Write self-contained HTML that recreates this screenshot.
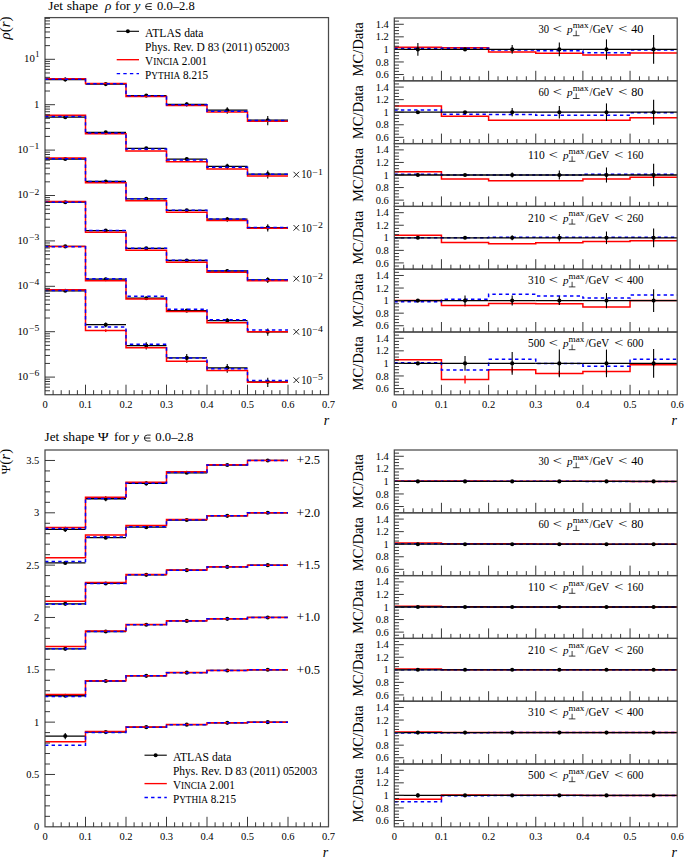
<!DOCTYPE html>
<html><head><meta charset="utf-8"><title>Jet shapes</title>
<style>html,body{margin:0;padding:0;background:#fff;overflow:hidden;}svg{display:block;}text{font-family:"Liberation Serif", serif;}</style>
</head><body>
<svg width="685" height="858" viewBox="0 0 685 858" font-family='"Liberation Serif", serif' fill="#000">
<rect width="685" height="858" fill="#fff"/>
<line x1="45.00" y1="79.50" x2="85.50" y2="79.50" stroke="#000" stroke-width="1.3" />
<line x1="85.50" y1="84.10" x2="126.00" y2="84.10" stroke="#000" stroke-width="1.3" />
<line x1="126.00" y1="95.60" x2="166.50" y2="95.60" stroke="#000" stroke-width="1.3" />
<line x1="166.50" y1="104.30" x2="207.00" y2="104.30" stroke="#000" stroke-width="1.3" />
<line x1="207.00" y1="110.20" x2="247.50" y2="110.20" stroke="#000" stroke-width="1.3" />
<line x1="247.50" y1="120.20" x2="288.00" y2="120.20" stroke="#000" stroke-width="1.3" />
<line x1="65.25" y1="77.62" x2="65.25" y2="81.58" stroke="#000" stroke-width="1.1" />
<circle cx="65.25" cy="79.50" r="2.05" fill="#000"/>
<circle cx="105.75" cy="84.10" r="2.05" fill="#000"/>
<line x1="146.25" y1="94.27" x2="146.25" y2="97.03" stroke="#000" stroke-width="1.1" />
<circle cx="146.25" cy="95.60" r="2.05" fill="#000"/>
<line x1="186.75" y1="102.24" x2="186.75" y2="106.60" stroke="#000" stroke-width="1.1" />
<circle cx="186.75" cy="104.30" r="2.05" fill="#000"/>
<line x1="227.25" y1="107.27" x2="227.25" y2="113.64" stroke="#000" stroke-width="1.1" />
<circle cx="227.25" cy="110.20" r="2.05" fill="#000"/>
<line x1="267.75" y1="116.12" x2="267.75" y2="125.35" stroke="#000" stroke-width="1.1" />
<circle cx="267.75" cy="120.20" r="2.05" fill="#000"/>
<path d="M45.00,78.82 L85.50,78.82 L85.50,83.61 L126.00,83.61 L126.00,96.40 L166.50,96.40 L166.50,105.56 L207.00,105.56 L207.00,112.06 L247.50,112.06 L247.50,121.34 L288.00,121.34" fill="none" stroke="#ff0000" stroke-width="1.5" />
<path d="M45.00,79.21 L85.50,79.21 L85.50,83.71 L126.00,83.71 L126.00,95.80 L166.50,95.80 L166.50,104.70 L207.00,104.70 L207.00,111.27 L247.50,111.27 L247.50,120.40 L288.00,120.40" fill="none" stroke="#0000ff" stroke-width="1.5" stroke-dasharray="3.4 3.2"/>
<line x1="45.00" y1="117.20" x2="85.50" y2="117.20" stroke="#000" stroke-width="1.3" />
<line x1="85.50" y1="132.40" x2="126.00" y2="132.40" stroke="#000" stroke-width="1.3" />
<line x1="126.00" y1="148.30" x2="166.50" y2="148.30" stroke="#000" stroke-width="1.3" />
<line x1="166.50" y1="159.10" x2="207.00" y2="159.10" stroke="#000" stroke-width="1.3" />
<line x1="207.00" y1="166.30" x2="247.50" y2="166.30" stroke="#000" stroke-width="1.3" />
<line x1="247.50" y1="174.10" x2="288.00" y2="174.10" stroke="#000" stroke-width="1.3" />
<circle cx="65.25" cy="117.20" r="2.05" fill="#000"/>
<circle cx="105.75" cy="132.40" r="2.05" fill="#000"/>
<line x1="146.25" y1="147.06" x2="146.25" y2="149.63" stroke="#000" stroke-width="1.1" />
<circle cx="146.25" cy="148.30" r="2.05" fill="#000"/>
<line x1="186.75" y1="157.22" x2="186.75" y2="161.18" stroke="#000" stroke-width="1.1" />
<circle cx="186.75" cy="159.10" r="2.05" fill="#000"/>
<line x1="227.25" y1="163.72" x2="227.25" y2="169.27" stroke="#000" stroke-width="1.1" />
<circle cx="227.25" cy="166.30" r="2.05" fill="#000"/>
<line x1="267.75" y1="170.51" x2="267.75" y2="178.50" stroke="#000" stroke-width="1.1" />
<circle cx="267.75" cy="174.10" r="2.05" fill="#000"/>
<path d="M45.00,115.32 L85.50,115.32 L85.50,133.73 L126.00,133.73 L126.00,151.05 L166.50,151.05 L166.50,161.85 L207.00,161.85 L207.00,169.05 L247.50,169.05 L247.50,175.96 L288.00,175.96" fill="none" stroke="#ff0000" stroke-width="1.5" />
<path d="M45.00,116.52 L85.50,116.52 L85.50,133.04 L126.00,133.04 L126.00,149.00 L166.50,149.00 L166.50,160.11 L207.00,160.11 L207.00,167.31 L247.50,167.31 L247.50,174.30 L288.00,174.30" fill="none" stroke="#0000ff" stroke-width="1.5" stroke-dasharray="3.4 3.2"/>
<line x1="45.00" y1="159.00" x2="85.50" y2="159.00" stroke="#000" stroke-width="1.3" />
<line x1="85.50" y1="181.50" x2="126.00" y2="181.50" stroke="#000" stroke-width="1.3" />
<line x1="126.00" y1="198.80" x2="166.50" y2="198.80" stroke="#000" stroke-width="1.3" />
<line x1="166.50" y1="210.30" x2="207.00" y2="210.30" stroke="#000" stroke-width="1.3" />
<line x1="207.00" y1="219.20" x2="247.50" y2="219.20" stroke="#000" stroke-width="1.3" />
<line x1="247.50" y1="227.60" x2="288.00" y2="227.60" stroke="#000" stroke-width="1.3" />
<circle cx="65.25" cy="159.00" r="2.05" fill="#000"/>
<circle cx="105.75" cy="181.50" r="2.05" fill="#000"/>
<line x1="146.25" y1="198.03" x2="146.25" y2="199.60" stroke="#000" stroke-width="1.1" />
<circle cx="146.25" cy="198.80" r="2.05" fill="#000"/>
<line x1="186.75" y1="208.97" x2="186.75" y2="211.73" stroke="#000" stroke-width="1.1" />
<circle cx="186.75" cy="210.30" r="2.05" fill="#000"/>
<line x1="227.25" y1="216.97" x2="227.25" y2="221.72" stroke="#000" stroke-width="1.1" />
<circle cx="227.25" cy="219.20" r="2.05" fill="#000"/>
<line x1="267.75" y1="224.34" x2="267.75" y2="231.51" stroke="#000" stroke-width="1.1" />
<circle cx="267.75" cy="227.60" r="2.05" fill="#000"/>
<path d="M45.00,158.04 L85.50,158.04 L85.50,182.80 L126.00,182.80 L126.00,200.66 L166.50,200.66 L166.50,212.16 L207.00,212.16 L207.00,220.50 L247.50,220.50 L247.50,228.34 L288.00,228.34" fill="none" stroke="#ff0000" stroke-width="1.5" />
<path d="M45.00,158.80 L85.50,158.80 L85.50,181.50 L126.00,181.50 L126.00,198.80 L166.50,198.80 L166.50,210.30 L207.00,210.30 L207.00,219.00 L247.50,219.00 L247.50,227.40 L288.00,227.40" fill="none" stroke="#0000ff" stroke-width="1.5" stroke-dasharray="3.4 3.2"/>
<line x1="45.00" y1="202.20" x2="85.50" y2="202.20" stroke="#000" stroke-width="1.3" />
<line x1="85.50" y1="230.60" x2="126.00" y2="230.60" stroke="#000" stroke-width="1.3" />
<line x1="126.00" y1="248.40" x2="166.50" y2="248.40" stroke="#000" stroke-width="1.3" />
<line x1="166.50" y1="260.50" x2="207.00" y2="260.50" stroke="#000" stroke-width="1.3" />
<line x1="207.00" y1="271.00" x2="247.50" y2="271.00" stroke="#000" stroke-width="1.3" />
<line x1="247.50" y1="279.90" x2="288.00" y2="279.90" stroke="#000" stroke-width="1.3" />
<circle cx="65.25" cy="202.20" r="2.05" fill="#000"/>
<circle cx="105.75" cy="230.60" r="2.05" fill="#000"/>
<line x1="146.25" y1="247.63" x2="146.25" y2="249.20" stroke="#000" stroke-width="1.1" />
<circle cx="146.25" cy="248.40" r="2.05" fill="#000"/>
<line x1="186.75" y1="259.35" x2="186.75" y2="261.72" stroke="#000" stroke-width="1.1" />
<circle cx="186.75" cy="260.50" r="2.05" fill="#000"/>
<line x1="227.25" y1="269.12" x2="227.25" y2="273.08" stroke="#000" stroke-width="1.1" />
<circle cx="227.25" cy="271.00" r="2.05" fill="#000"/>
<line x1="267.75" y1="277.14" x2="267.75" y2="283.10" stroke="#000" stroke-width="1.1" />
<circle cx="267.75" cy="279.90" r="2.05" fill="#000"/>
<path d="M45.00,201.43 L85.50,201.43 L85.50,232.14 L126.00,232.14 L126.00,250.35 L166.50,250.35 L166.50,262.14 L207.00,262.14 L207.00,272.22 L247.50,272.22 L247.50,280.87 L288.00,280.87" fill="none" stroke="#ff0000" stroke-width="1.5" />
<path d="M45.00,202.20 L85.50,202.20 L85.50,230.60 L126.00,230.60 L126.00,248.20 L166.50,248.20 L166.50,260.30 L207.00,260.30 L207.00,270.80 L247.50,270.80 L247.50,279.70 L288.00,279.70" fill="none" stroke="#0000ff" stroke-width="1.5" stroke-dasharray="3.4 3.2"/>
<line x1="45.00" y1="246.40" x2="85.50" y2="246.40" stroke="#000" stroke-width="1.3" />
<line x1="85.50" y1="279.20" x2="126.00" y2="279.20" stroke="#000" stroke-width="1.3" />
<line x1="126.00" y1="298.20" x2="166.50" y2="298.20" stroke="#000" stroke-width="1.3" />
<line x1="166.50" y1="310.60" x2="207.00" y2="310.60" stroke="#000" stroke-width="1.3" />
<line x1="207.00" y1="320.60" x2="247.50" y2="320.60" stroke="#000" stroke-width="1.3" />
<line x1="247.50" y1="331.80" x2="288.00" y2="331.80" stroke="#000" stroke-width="1.3" />
<circle cx="65.25" cy="246.40" r="2.05" fill="#000"/>
<line x1="105.75" y1="277.68" x2="105.75" y2="280.84" stroke="#000" stroke-width="1.1" />
<circle cx="105.75" cy="279.20" r="2.05" fill="#000"/>
<line x1="146.25" y1="296.68" x2="146.25" y2="299.84" stroke="#000" stroke-width="1.1" />
<circle cx="146.25" cy="298.20" r="2.05" fill="#000"/>
<line x1="186.75" y1="309.27" x2="186.75" y2="312.03" stroke="#000" stroke-width="1.1" />
<circle cx="186.75" cy="310.60" r="2.05" fill="#000"/>
<line x1="227.25" y1="318.37" x2="227.25" y2="323.12" stroke="#000" stroke-width="1.1" />
<circle cx="227.25" cy="320.60" r="2.05" fill="#000"/>
<line x1="267.75" y1="328.54" x2="267.75" y2="335.71" stroke="#000" stroke-width="1.1" />
<circle cx="267.75" cy="331.80" r="2.05" fill="#000"/>
<path d="M45.00,246.40 L85.50,246.40 L85.50,280.84 L126.00,280.84 L126.00,299.11 L166.50,299.11 L166.50,311.61 L207.00,311.61 L207.00,322.68 L247.50,322.68 L247.50,331.80 L288.00,331.80" fill="none" stroke="#ff0000" stroke-width="1.5" />
<path d="M45.00,246.80 L85.50,246.80 L85.50,278.81 L126.00,278.81 L126.00,296.32 L166.50,296.32 L166.50,309.17 L207.00,309.17 L207.00,319.83 L247.50,319.83 L247.50,330.10 L288.00,330.10" fill="none" stroke="#0000ff" stroke-width="1.5" stroke-dasharray="3.4 3.2"/>
<line x1="45.00" y1="290.80" x2="85.50" y2="290.80" stroke="#000" stroke-width="1.3" />
<line x1="85.50" y1="324.70" x2="126.00" y2="324.70" stroke="#000" stroke-width="1.3" />
<line x1="126.00" y1="345.60" x2="166.50" y2="345.60" stroke="#000" stroke-width="1.3" />
<line x1="166.50" y1="357.90" x2="207.00" y2="357.90" stroke="#000" stroke-width="1.3" />
<line x1="207.00" y1="367.80" x2="247.50" y2="367.80" stroke="#000" stroke-width="1.3" />
<line x1="247.50" y1="381.80" x2="288.00" y2="381.80" stroke="#000" stroke-width="1.3" />
<circle cx="65.25" cy="290.80" r="2.05" fill="#000"/>
<line x1="105.75" y1="322.50" x2="105.75" y2="327.18" stroke="#000" stroke-width="1.1" />
<circle cx="105.75" cy="324.70" r="2.05" fill="#000"/>
<line x1="146.25" y1="342.34" x2="146.25" y2="349.51" stroke="#000" stroke-width="1.1" />
<circle cx="146.25" cy="345.60" r="2.05" fill="#000"/>
<line x1="186.75" y1="353.98" x2="186.75" y2="362.80" stroke="#000" stroke-width="1.1" />
<circle cx="186.75" cy="357.90" r="2.05" fill="#000"/>
<line x1="227.25" y1="363.88" x2="227.25" y2="372.70" stroke="#000" stroke-width="1.1" />
<circle cx="227.25" cy="367.80" r="2.05" fill="#000"/>
<line x1="267.75" y1="377.72" x2="267.75" y2="386.95" stroke="#000" stroke-width="1.1" />
<circle cx="267.75" cy="381.80" r="2.05" fill="#000"/>
<path d="M45.00,289.65 L85.50,289.65 L85.50,330.58 L126.00,330.58 L126.00,347.68 L166.50,347.68 L166.50,361.34 L207.00,361.34 L207.00,370.55 L247.50,370.55 L247.50,382.24 L288.00,382.24" fill="none" stroke="#ff0000" stroke-width="1.5" />
<line x1="105.75" y1="329.36" x2="105.75" y2="331.89" stroke="#ff0000" stroke-width="1.3" />
<line x1="146.25" y1="346.81" x2="146.25" y2="348.59" stroke="#ff0000" stroke-width="1.3" />
<line x1="186.75" y1="360.56" x2="186.75" y2="362.14" stroke="#ff0000" stroke-width="1.3" />
<line x1="227.25" y1="369.77" x2="227.25" y2="371.35" stroke="#ff0000" stroke-width="1.3" />
<line x1="267.75" y1="381.66" x2="267.75" y2="382.84" stroke="#ff0000" stroke-width="1.3" />
<path d="M45.00,290.60 L85.50,290.60 L85.50,326.89 L126.00,326.89 L126.00,344.36 L166.50,344.36 L166.50,357.90 L207.00,357.90 L207.00,368.71 L247.50,368.71 L247.50,380.56 L288.00,380.56" fill="none" stroke="#0000ff" stroke-width="1.5" stroke-dasharray="3.4 3.2"/>
<rect x="45.00" y="17.60" width="283.50" height="377.10" fill="none" stroke="#4a4a4a" stroke-width="1.25"/>
<line x1="45.00" y1="390.77" x2="50.00" y2="390.77" stroke="#222" stroke-width="0.9" />
<line x1="45.00" y1="387.17" x2="50.00" y2="387.17" stroke="#222" stroke-width="0.9" />
<line x1="45.00" y1="384.13" x2="50.00" y2="384.13" stroke="#222" stroke-width="0.9" />
<line x1="45.00" y1="381.50" x2="50.00" y2="381.50" stroke="#222" stroke-width="0.9" />
<line x1="45.00" y1="379.18" x2="50.00" y2="379.18" stroke="#222" stroke-width="0.9" />
<line x1="45.00" y1="377.10" x2="55.00" y2="377.10" stroke="#222" stroke-width="0.9" />
<line x1="45.00" y1="363.43" x2="50.00" y2="363.43" stroke="#222" stroke-width="0.9" />
<line x1="45.00" y1="355.44" x2="50.00" y2="355.44" stroke="#222" stroke-width="0.9" />
<line x1="45.00" y1="349.77" x2="50.00" y2="349.77" stroke="#222" stroke-width="0.9" />
<line x1="45.00" y1="345.37" x2="50.00" y2="345.37" stroke="#222" stroke-width="0.9" />
<line x1="45.00" y1="341.77" x2="50.00" y2="341.77" stroke="#222" stroke-width="0.9" />
<line x1="45.00" y1="338.73" x2="50.00" y2="338.73" stroke="#222" stroke-width="0.9" />
<line x1="45.00" y1="336.10" x2="50.00" y2="336.10" stroke="#222" stroke-width="0.9" />
<line x1="45.00" y1="333.78" x2="50.00" y2="333.78" stroke="#222" stroke-width="0.9" />
<line x1="45.00" y1="331.70" x2="55.00" y2="331.70" stroke="#222" stroke-width="0.9" />
<line x1="45.00" y1="318.03" x2="50.00" y2="318.03" stroke="#222" stroke-width="0.9" />
<line x1="45.00" y1="310.04" x2="50.00" y2="310.04" stroke="#222" stroke-width="0.9" />
<line x1="45.00" y1="304.37" x2="50.00" y2="304.37" stroke="#222" stroke-width="0.9" />
<line x1="45.00" y1="299.97" x2="50.00" y2="299.97" stroke="#222" stroke-width="0.9" />
<line x1="45.00" y1="296.37" x2="50.00" y2="296.37" stroke="#222" stroke-width="0.9" />
<line x1="45.00" y1="293.33" x2="50.00" y2="293.33" stroke="#222" stroke-width="0.9" />
<line x1="45.00" y1="290.70" x2="50.00" y2="290.70" stroke="#222" stroke-width="0.9" />
<line x1="45.00" y1="288.38" x2="50.00" y2="288.38" stroke="#222" stroke-width="0.9" />
<line x1="45.00" y1="286.30" x2="55.00" y2="286.30" stroke="#222" stroke-width="0.9" />
<line x1="45.00" y1="272.63" x2="50.00" y2="272.63" stroke="#222" stroke-width="0.9" />
<line x1="45.00" y1="264.64" x2="50.00" y2="264.64" stroke="#222" stroke-width="0.9" />
<line x1="45.00" y1="258.97" x2="50.00" y2="258.97" stroke="#222" stroke-width="0.9" />
<line x1="45.00" y1="254.57" x2="50.00" y2="254.57" stroke="#222" stroke-width="0.9" />
<line x1="45.00" y1="250.97" x2="50.00" y2="250.97" stroke="#222" stroke-width="0.9" />
<line x1="45.00" y1="247.93" x2="50.00" y2="247.93" stroke="#222" stroke-width="0.9" />
<line x1="45.00" y1="245.30" x2="50.00" y2="245.30" stroke="#222" stroke-width="0.9" />
<line x1="45.00" y1="242.98" x2="50.00" y2="242.98" stroke="#222" stroke-width="0.9" />
<line x1="45.00" y1="240.90" x2="55.00" y2="240.90" stroke="#222" stroke-width="0.9" />
<line x1="45.00" y1="227.23" x2="50.00" y2="227.23" stroke="#222" stroke-width="0.9" />
<line x1="45.00" y1="219.24" x2="50.00" y2="219.24" stroke="#222" stroke-width="0.9" />
<line x1="45.00" y1="213.57" x2="50.00" y2="213.57" stroke="#222" stroke-width="0.9" />
<line x1="45.00" y1="209.17" x2="50.00" y2="209.17" stroke="#222" stroke-width="0.9" />
<line x1="45.00" y1="205.57" x2="50.00" y2="205.57" stroke="#222" stroke-width="0.9" />
<line x1="45.00" y1="202.53" x2="50.00" y2="202.53" stroke="#222" stroke-width="0.9" />
<line x1="45.00" y1="199.90" x2="50.00" y2="199.90" stroke="#222" stroke-width="0.9" />
<line x1="45.00" y1="197.58" x2="50.00" y2="197.58" stroke="#222" stroke-width="0.9" />
<line x1="45.00" y1="195.50" x2="55.00" y2="195.50" stroke="#222" stroke-width="0.9" />
<line x1="45.00" y1="181.83" x2="50.00" y2="181.83" stroke="#222" stroke-width="0.9" />
<line x1="45.00" y1="173.84" x2="50.00" y2="173.84" stroke="#222" stroke-width="0.9" />
<line x1="45.00" y1="168.17" x2="50.00" y2="168.17" stroke="#222" stroke-width="0.9" />
<line x1="45.00" y1="163.77" x2="50.00" y2="163.77" stroke="#222" stroke-width="0.9" />
<line x1="45.00" y1="160.17" x2="50.00" y2="160.17" stroke="#222" stroke-width="0.9" />
<line x1="45.00" y1="157.13" x2="50.00" y2="157.13" stroke="#222" stroke-width="0.9" />
<line x1="45.00" y1="154.50" x2="50.00" y2="154.50" stroke="#222" stroke-width="0.9" />
<line x1="45.00" y1="152.18" x2="50.00" y2="152.18" stroke="#222" stroke-width="0.9" />
<line x1="45.00" y1="150.10" x2="55.00" y2="150.10" stroke="#222" stroke-width="0.9" />
<line x1="45.00" y1="136.43" x2="50.00" y2="136.43" stroke="#222" stroke-width="0.9" />
<line x1="45.00" y1="128.44" x2="50.00" y2="128.44" stroke="#222" stroke-width="0.9" />
<line x1="45.00" y1="122.77" x2="50.00" y2="122.77" stroke="#222" stroke-width="0.9" />
<line x1="45.00" y1="118.37" x2="50.00" y2="118.37" stroke="#222" stroke-width="0.9" />
<line x1="45.00" y1="114.77" x2="50.00" y2="114.77" stroke="#222" stroke-width="0.9" />
<line x1="45.00" y1="111.73" x2="50.00" y2="111.73" stroke="#222" stroke-width="0.9" />
<line x1="45.00" y1="109.10" x2="50.00" y2="109.10" stroke="#222" stroke-width="0.9" />
<line x1="45.00" y1="106.78" x2="50.00" y2="106.78" stroke="#222" stroke-width="0.9" />
<line x1="45.00" y1="104.70" x2="55.00" y2="104.70" stroke="#222" stroke-width="0.9" />
<line x1="45.00" y1="91.03" x2="50.00" y2="91.03" stroke="#222" stroke-width="0.9" />
<line x1="45.00" y1="83.04" x2="50.00" y2="83.04" stroke="#222" stroke-width="0.9" />
<line x1="45.00" y1="77.37" x2="50.00" y2="77.37" stroke="#222" stroke-width="0.9" />
<line x1="45.00" y1="72.97" x2="50.00" y2="72.97" stroke="#222" stroke-width="0.9" />
<line x1="45.00" y1="69.37" x2="50.00" y2="69.37" stroke="#222" stroke-width="0.9" />
<line x1="45.00" y1="66.33" x2="50.00" y2="66.33" stroke="#222" stroke-width="0.9" />
<line x1="45.00" y1="63.70" x2="50.00" y2="63.70" stroke="#222" stroke-width="0.9" />
<line x1="45.00" y1="61.38" x2="50.00" y2="61.38" stroke="#222" stroke-width="0.9" />
<line x1="45.00" y1="59.30" x2="55.00" y2="59.30" stroke="#222" stroke-width="0.9" />
<line x1="45.00" y1="45.63" x2="50.00" y2="45.63" stroke="#222" stroke-width="0.9" />
<line x1="45.00" y1="37.64" x2="50.00" y2="37.64" stroke="#222" stroke-width="0.9" />
<line x1="45.00" y1="31.97" x2="50.00" y2="31.97" stroke="#222" stroke-width="0.9" />
<line x1="45.00" y1="27.57" x2="50.00" y2="27.57" stroke="#222" stroke-width="0.9" />
<line x1="45.00" y1="23.97" x2="50.00" y2="23.97" stroke="#222" stroke-width="0.9" />
<line x1="45.00" y1="20.93" x2="50.00" y2="20.93" stroke="#222" stroke-width="0.9" />
<line x1="45.00" y1="18.30" x2="50.00" y2="18.30" stroke="#222" stroke-width="0.9" />
<line x1="53.10" y1="394.70" x2="53.10" y2="390.20" stroke="#222" stroke-width="0.9" />
<line x1="61.20" y1="394.70" x2="61.20" y2="390.20" stroke="#222" stroke-width="0.9" />
<line x1="69.30" y1="394.70" x2="69.30" y2="390.20" stroke="#222" stroke-width="0.9" />
<line x1="77.40" y1="394.70" x2="77.40" y2="390.20" stroke="#222" stroke-width="0.9" />
<line x1="85.50" y1="394.70" x2="85.50" y2="384.70" stroke="#222" stroke-width="0.9" />
<line x1="93.60" y1="394.70" x2="93.60" y2="390.20" stroke="#222" stroke-width="0.9" />
<line x1="101.70" y1="394.70" x2="101.70" y2="390.20" stroke="#222" stroke-width="0.9" />
<line x1="109.80" y1="394.70" x2="109.80" y2="390.20" stroke="#222" stroke-width="0.9" />
<line x1="117.90" y1="394.70" x2="117.90" y2="390.20" stroke="#222" stroke-width="0.9" />
<line x1="126.00" y1="394.70" x2="126.00" y2="384.70" stroke="#222" stroke-width="0.9" />
<line x1="134.10" y1="394.70" x2="134.10" y2="390.20" stroke="#222" stroke-width="0.9" />
<line x1="142.20" y1="394.70" x2="142.20" y2="390.20" stroke="#222" stroke-width="0.9" />
<line x1="150.30" y1="394.70" x2="150.30" y2="390.20" stroke="#222" stroke-width="0.9" />
<line x1="158.40" y1="394.70" x2="158.40" y2="390.20" stroke="#222" stroke-width="0.9" />
<line x1="166.50" y1="394.70" x2="166.50" y2="384.70" stroke="#222" stroke-width="0.9" />
<line x1="174.60" y1="394.70" x2="174.60" y2="390.20" stroke="#222" stroke-width="0.9" />
<line x1="182.70" y1="394.70" x2="182.70" y2="390.20" stroke="#222" stroke-width="0.9" />
<line x1="190.80" y1="394.70" x2="190.80" y2="390.20" stroke="#222" stroke-width="0.9" />
<line x1="198.90" y1="394.70" x2="198.90" y2="390.20" stroke="#222" stroke-width="0.9" />
<line x1="207.00" y1="394.70" x2="207.00" y2="384.70" stroke="#222" stroke-width="0.9" />
<line x1="215.10" y1="394.70" x2="215.10" y2="390.20" stroke="#222" stroke-width="0.9" />
<line x1="223.20" y1="394.70" x2="223.20" y2="390.20" stroke="#222" stroke-width="0.9" />
<line x1="231.30" y1="394.70" x2="231.30" y2="390.20" stroke="#222" stroke-width="0.9" />
<line x1="239.40" y1="394.70" x2="239.40" y2="390.20" stroke="#222" stroke-width="0.9" />
<line x1="247.50" y1="394.70" x2="247.50" y2="384.70" stroke="#222" stroke-width="0.9" />
<line x1="255.60" y1="394.70" x2="255.60" y2="390.20" stroke="#222" stroke-width="0.9" />
<line x1="263.70" y1="394.70" x2="263.70" y2="390.20" stroke="#222" stroke-width="0.9" />
<line x1="271.80" y1="394.70" x2="271.80" y2="390.20" stroke="#222" stroke-width="0.9" />
<line x1="279.90" y1="394.70" x2="279.90" y2="390.20" stroke="#222" stroke-width="0.9" />
<line x1="288.00" y1="394.70" x2="288.00" y2="384.70" stroke="#222" stroke-width="0.9" />
<line x1="296.10" y1="394.70" x2="296.10" y2="390.20" stroke="#222" stroke-width="0.9" />
<line x1="304.20" y1="394.70" x2="304.20" y2="390.20" stroke="#222" stroke-width="0.9" />
<line x1="312.30" y1="394.70" x2="312.30" y2="390.20" stroke="#222" stroke-width="0.9" />
<line x1="320.40" y1="394.70" x2="320.40" y2="390.20" stroke="#222" stroke-width="0.9" />
<text x="45.00" y="408.00" font-size="10.5" text-anchor="middle" >0</text>
<text x="85.50" y="408.00" font-size="10.5" text-anchor="middle" >0.1</text>
<text x="126.00" y="408.00" font-size="10.5" text-anchor="middle" >0.2</text>
<text x="166.50" y="408.00" font-size="10.5" text-anchor="middle" >0.3</text>
<text x="207.00" y="408.00" font-size="10.5" text-anchor="middle" >0.4</text>
<text x="247.50" y="408.00" font-size="10.5" text-anchor="middle" >0.5</text>
<text x="288.00" y="408.00" font-size="10.5" text-anchor="middle" >0.6</text>
<text x="328.50" y="408.00" font-size="10.5" text-anchor="middle" >0.7</text>
<text x="39.40" y="376.10" font-size="8.3" text-anchor="end" textLength="10.2" lengthAdjust="spacingAndGlyphs">−6</text>
<text x="28.20" y="379.90" font-size="10.8" text-anchor="end" >10</text>
<text x="39.40" y="330.70" font-size="8.3" text-anchor="end" textLength="10.2" lengthAdjust="spacingAndGlyphs">−5</text>
<text x="28.20" y="334.50" font-size="10.8" text-anchor="end" >10</text>
<text x="39.40" y="285.30" font-size="8.3" text-anchor="end" textLength="10.2" lengthAdjust="spacingAndGlyphs">−4</text>
<text x="28.20" y="289.10" font-size="10.8" text-anchor="end" >10</text>
<text x="39.40" y="239.90" font-size="8.3" text-anchor="end" textLength="10.2" lengthAdjust="spacingAndGlyphs">−3</text>
<text x="28.20" y="243.70" font-size="10.8" text-anchor="end" >10</text>
<text x="39.40" y="194.50" font-size="8.3" text-anchor="end" textLength="10.2" lengthAdjust="spacingAndGlyphs">−2</text>
<text x="28.20" y="198.30" font-size="10.8" text-anchor="end" >10</text>
<text x="39.40" y="149.10" font-size="8.3" text-anchor="end" textLength="10.2" lengthAdjust="spacingAndGlyphs">−1</text>
<text x="28.20" y="152.90" font-size="10.8" text-anchor="end" >10</text>
<text x="39.3" y="107.60" font-size="10.8" text-anchor="end" >1</text>
<text x="39.40" y="56.90" font-size="8.3" text-anchor="end">1</text>
<text x="34.80" y="62.10" font-size="10.8" text-anchor="end" >10</text>
<path d="M293.5,171.80 L299.1,177.40 M299.1,171.80 L293.5,177.40" stroke="#000" stroke-width="0.85" fill="none"/>
<text x="301.3" y="178.40" font-size="11.5" textLength="10.6" lengthAdjust="spacingAndGlyphs">10</text>
<text x="312.4" y="174.60" font-size="8.6" textLength="10.4" lengthAdjust="spacingAndGlyphs">−1</text>
<path d="M293.5,225.00 L299.1,230.60 M299.1,225.00 L293.5,230.60" stroke="#000" stroke-width="0.85" fill="none"/>
<text x="301.3" y="231.60" font-size="11.5" textLength="10.6" lengthAdjust="spacingAndGlyphs">10</text>
<text x="312.4" y="227.80" font-size="8.6" textLength="10.4" lengthAdjust="spacingAndGlyphs">−2</text>
<path d="M293.5,275.90 L299.1,281.50 M299.1,275.90 L293.5,281.50" stroke="#000" stroke-width="0.85" fill="none"/>
<text x="301.3" y="282.50" font-size="11.5" textLength="10.6" lengthAdjust="spacingAndGlyphs">10</text>
<text x="312.4" y="278.70" font-size="8.6" textLength="10.4" lengthAdjust="spacingAndGlyphs">−2</text>
<path d="M293.5,329.00 L299.1,334.60 M299.1,329.00 L293.5,334.60" stroke="#000" stroke-width="0.85" fill="none"/>
<text x="301.3" y="335.60" font-size="11.5" textLength="10.6" lengthAdjust="spacingAndGlyphs">10</text>
<text x="312.4" y="331.80" font-size="8.6" textLength="10.4" lengthAdjust="spacingAndGlyphs">−4</text>
<path d="M293.5,377.40 L299.1,383.00 M299.1,377.40 L293.5,383.00" stroke="#000" stroke-width="0.85" fill="none"/>
<text x="301.3" y="384.00" font-size="11.5" textLength="10.6" lengthAdjust="spacingAndGlyphs">10</text>
<text x="312.4" y="380.20" font-size="8.6" textLength="10.4" lengthAdjust="spacingAndGlyphs">−5</text>
<text x="48.30" y="9.70" font-size="13.2">Jet</text>
<text x="66.70" y="9.70" font-size="13.2" textLength="31.3" lengthAdjust="spacingAndGlyphs">shape</text>
<text x="105.00" y="9.70" font-size="13.2" font-style="italic">ρ</text>
<text x="115.00" y="9.70" font-size="13.2">for</text>
<text x="134.50" y="9.70" font-size="13.2" font-style="italic">y</text>
<path d="M151.90,3.60 L148.55,3.60 A2.95,2.95 0 0 0 148.55,9.50 L151.90,9.50 M145.60,6.55 L151.50,6.55" fill="none" stroke="#000" stroke-width="0.85"/>
<text x="157.00" y="9.70" font-size="12.8" textLength="37.70" lengthAdjust="spacingAndGlyphs">0.0–2.8</text>
<text transform="translate(10.3,16.5) rotate(-90)" font-size="15" text-anchor="end"><tspan font-style="italic">ρ</tspan>(<tspan font-style="italic">r</tspan>)</text>
<text x="326.50" y="424.8" font-size="14" font-style="italic" text-anchor="middle">r</text>
<line x1="116.70" y1="31.30" x2="139.00" y2="31.30" stroke="#000" stroke-width="1.1" />
<circle cx="127.85" cy="31.30" r="2" fill="#000"/>
<text x="145.10" y="37.20" font-size="11.6" textLength="58.4" lengthAdjust="spacingAndGlyphs">ATLAS data</text>
<text x="145.10" y="51.15" font-size="11.6" textLength="144.4" lengthAdjust="spacingAndGlyphs">Phys. Rev. D 83 (2011) 052003</text>
<line x1="116.70" y1="59.70" x2="139.00" y2="59.70" stroke="#ff0000" stroke-width="1.35" />
<text x="145.10" y="65.30" font-size="11.6" textLength="61.9" lengthAdjust="spacingAndGlyphs">V<tspan font-size="9.6">INCIA</tspan> 2.001</text>
<line x1="116.70" y1="73.60" x2="139.00" y2="73.60" stroke="#0000ff" stroke-width="1.35" stroke-dasharray="3.4 3.2"/>
<text x="145.10" y="79.20" font-size="11.6" textLength="63.1" lengthAdjust="spacingAndGlyphs">P<tspan font-size="9.6">YTHIA</tspan> 8.215</text>
<line x1="45.00" y1="529.44" x2="85.50" y2="529.44" stroke="#000" stroke-width="1.3" />
<line x1="85.50" y1="498.77" x2="126.00" y2="498.77" stroke="#000" stroke-width="1.3" />
<line x1="126.00" y1="483.39" x2="166.50" y2="483.39" stroke="#000" stroke-width="1.3" />
<line x1="166.50" y1="472.82" x2="207.00" y2="472.82" stroke="#000" stroke-width="1.3" />
<line x1="207.00" y1="465.07" x2="247.50" y2="465.07" stroke="#000" stroke-width="1.3" />
<line x1="247.50" y1="460.47" x2="288.00" y2="460.47" stroke="#000" stroke-width="1.3" />
<line x1="65.25" y1="526.83" x2="65.25" y2="532.06" stroke="#000" stroke-width="1.1" />
<circle cx="65.25" cy="529.44" r="2.05" fill="#000"/>
<line x1="105.75" y1="496.26" x2="105.75" y2="501.29" stroke="#000" stroke-width="1.1" />
<circle cx="105.75" cy="498.77" r="2.05" fill="#000"/>
<line x1="146.25" y1="481.30" x2="146.25" y2="485.48" stroke="#000" stroke-width="1.1" />
<circle cx="146.25" cy="483.39" r="2.05" fill="#000"/>
<line x1="186.75" y1="471.77" x2="186.75" y2="473.86" stroke="#000" stroke-width="1.1" />
<circle cx="186.75" cy="472.82" r="2.05" fill="#000"/>
<line x1="227.25" y1="464.55" x2="227.25" y2="465.60" stroke="#000" stroke-width="1.1" />
<circle cx="227.25" cy="465.07" r="2.05" fill="#000"/>
<circle cx="267.75" cy="460.47" r="2.05" fill="#000"/>
<path d="M45.00,527.45 L85.50,527.45 L85.50,497.20 L126.00,497.20 L126.00,482.13 L166.50,482.13 L166.50,471.77 L207.00,471.77 L207.00,464.65 L247.50,464.65 L247.50,460.47 L288.00,460.47" fill="none" stroke="#ff0000" stroke-width="1.5" />
<path d="M45.00,528.50 L85.50,528.50 L85.50,498.46 L126.00,498.46 L126.00,483.18 L166.50,483.18 L166.50,472.50 L207.00,472.50 L207.00,464.97 L247.50,464.97 L247.50,460.47 L288.00,460.47" fill="none" stroke="#0000ff" stroke-width="1.5" stroke-dasharray="3.4 3.2"/>
<line x1="45.00" y1="562.94" x2="85.50" y2="562.94" stroke="#000" stroke-width="1.3" />
<line x1="85.50" y1="537.71" x2="126.00" y2="537.71" stroke="#000" stroke-width="1.3" />
<line x1="126.00" y1="527.14" x2="166.50" y2="527.14" stroke="#000" stroke-width="1.3" />
<line x1="166.50" y1="520.02" x2="207.00" y2="520.02" stroke="#000" stroke-width="1.3" />
<line x1="207.00" y1="515.84" x2="247.50" y2="515.84" stroke="#000" stroke-width="1.3" />
<line x1="247.50" y1="512.80" x2="288.00" y2="512.80" stroke="#000" stroke-width="1.3" />
<line x1="65.25" y1="561.37" x2="65.25" y2="564.51" stroke="#000" stroke-width="1.1" />
<circle cx="65.25" cy="562.94" r="2.05" fill="#000"/>
<line x1="105.75" y1="536.66" x2="105.75" y2="538.76" stroke="#000" stroke-width="1.1" />
<circle cx="105.75" cy="537.71" r="2.05" fill="#000"/>
<line x1="146.25" y1="526.62" x2="146.25" y2="527.66" stroke="#000" stroke-width="1.1" />
<circle cx="146.25" cy="527.14" r="2.05" fill="#000"/>
<line x1="186.75" y1="519.50" x2="186.75" y2="520.55" stroke="#000" stroke-width="1.1" />
<circle cx="186.75" cy="520.02" r="2.05" fill="#000"/>
<circle cx="227.25" cy="515.84" r="2.05" fill="#000"/>
<circle cx="267.75" cy="512.80" r="2.05" fill="#000"/>
<path d="M45.00,557.70 L85.50,557.70 L85.50,535.09 L126.00,535.09 L126.00,525.57 L166.50,525.57 L166.50,519.50 L207.00,519.50 L207.00,515.63 L247.50,515.63 L247.50,512.80 L288.00,512.80" fill="none" stroke="#ff0000" stroke-width="1.5" />
<path d="M45.00,561.47 L85.50,561.47 L85.50,537.08 L126.00,537.08 L126.00,526.83 L166.50,526.83 L166.50,519.92 L207.00,519.92 L207.00,515.73 L247.50,515.73 L247.50,512.80 L288.00,512.80" fill="none" stroke="#0000ff" stroke-width="1.5" stroke-dasharray="3.4 3.2"/>
<line x1="45.00" y1="603.86" x2="85.50" y2="603.86" stroke="#000" stroke-width="1.3" />
<line x1="85.50" y1="583.45" x2="126.00" y2="583.45" stroke="#000" stroke-width="1.3" />
<line x1="126.00" y1="574.87" x2="166.50" y2="574.87" stroke="#000" stroke-width="1.3" />
<line x1="166.50" y1="570.16" x2="207.00" y2="570.16" stroke="#000" stroke-width="1.3" />
<line x1="207.00" y1="566.91" x2="247.50" y2="566.91" stroke="#000" stroke-width="1.3" />
<line x1="247.50" y1="565.13" x2="288.00" y2="565.13" stroke="#000" stroke-width="1.3" />
<line x1="65.25" y1="602.81" x2="65.25" y2="604.91" stroke="#000" stroke-width="1.1" />
<circle cx="65.25" cy="603.86" r="2.05" fill="#000"/>
<line x1="105.75" y1="582.93" x2="105.75" y2="583.97" stroke="#000" stroke-width="1.1" />
<circle cx="105.75" cy="583.45" r="2.05" fill="#000"/>
<line x1="146.25" y1="574.45" x2="146.25" y2="575.29" stroke="#000" stroke-width="1.1" />
<circle cx="146.25" cy="574.87" r="2.05" fill="#000"/>
<circle cx="186.75" cy="570.16" r="2.05" fill="#000"/>
<circle cx="227.25" cy="566.91" r="2.05" fill="#000"/>
<circle cx="267.75" cy="565.13" r="2.05" fill="#000"/>
<path d="M45.00,601.14 L85.50,601.14 L85.50,582.61 L126.00,582.61 L126.00,574.55 L166.50,574.55 L166.50,570.05 L207.00,570.05 L207.00,566.81 L247.50,566.81 L247.50,565.13 L288.00,565.13" fill="none" stroke="#ff0000" stroke-width="1.5" />
<path d="M45.00,604.28 L85.50,604.28 L85.50,583.45 L126.00,583.45 L126.00,574.87 L166.50,574.87 L166.50,570.16 L207.00,570.16 L207.00,566.91 L247.50,566.91 L247.50,565.13 L288.00,565.13" fill="none" stroke="#0000ff" stroke-width="1.5" stroke-dasharray="3.4 3.2"/>
<line x1="45.00" y1="648.87" x2="85.50" y2="648.87" stroke="#000" stroke-width="1.3" />
<line x1="85.50" y1="631.49" x2="126.00" y2="631.49" stroke="#000" stroke-width="1.3" />
<line x1="126.00" y1="624.69" x2="166.50" y2="624.69" stroke="#000" stroke-width="1.3" />
<line x1="166.50" y1="620.92" x2="207.00" y2="620.92" stroke="#000" stroke-width="1.3" />
<line x1="207.00" y1="618.83" x2="247.50" y2="618.83" stroke="#000" stroke-width="1.3" />
<line x1="247.50" y1="617.47" x2="288.00" y2="617.47" stroke="#000" stroke-width="1.3" />
<line x1="65.25" y1="648.24" x2="65.25" y2="649.49" stroke="#000" stroke-width="1.1" />
<circle cx="65.25" cy="648.87" r="2.05" fill="#000"/>
<line x1="105.75" y1="631.07" x2="105.75" y2="631.91" stroke="#000" stroke-width="1.1" />
<circle cx="105.75" cy="631.49" r="2.05" fill="#000"/>
<circle cx="146.25" cy="624.69" r="2.05" fill="#000"/>
<circle cx="186.75" cy="620.92" r="2.05" fill="#000"/>
<circle cx="227.25" cy="618.83" r="2.05" fill="#000"/>
<circle cx="267.75" cy="617.47" r="2.05" fill="#000"/>
<path d="M45.00,646.46 L85.50,646.46 L85.50,631.07 L126.00,631.07 L126.00,624.48 L166.50,624.48 L166.50,620.82 L207.00,620.82 L207.00,618.72 L247.50,618.72 L247.50,617.47 L288.00,617.47" fill="none" stroke="#ff0000" stroke-width="1.5" />
<path d="M45.00,648.87 L85.50,648.87 L85.50,631.60 L126.00,631.60 L126.00,624.69 L166.50,624.69 L166.50,620.92 L207.00,620.92 L207.00,618.83 L247.50,618.83 L247.50,617.47 L288.00,617.47" fill="none" stroke="#0000ff" stroke-width="1.5" stroke-dasharray="3.4 3.2"/>
<line x1="45.00" y1="695.76" x2="85.50" y2="695.76" stroke="#000" stroke-width="1.3" />
<line x1="85.50" y1="681.00" x2="126.00" y2="681.00" stroke="#000" stroke-width="1.3" />
<line x1="126.00" y1="675.87" x2="166.50" y2="675.87" stroke="#000" stroke-width="1.3" />
<line x1="166.50" y1="672.63" x2="207.00" y2="672.63" stroke="#000" stroke-width="1.3" />
<line x1="207.00" y1="670.43" x2="247.50" y2="670.43" stroke="#000" stroke-width="1.3" />
<line x1="247.50" y1="669.80" x2="288.00" y2="669.80" stroke="#000" stroke-width="1.3" />
<line x1="65.25" y1="695.13" x2="65.25" y2="696.39" stroke="#000" stroke-width="1.1" />
<circle cx="65.25" cy="695.76" r="2.05" fill="#000"/>
<circle cx="105.75" cy="681.00" r="2.05" fill="#000"/>
<circle cx="146.25" cy="675.87" r="2.05" fill="#000"/>
<circle cx="186.75" cy="672.63" r="2.05" fill="#000"/>
<circle cx="227.25" cy="670.43" r="2.05" fill="#000"/>
<circle cx="267.75" cy="669.80" r="2.05" fill="#000"/>
<path d="M45.00,694.50 L85.50,694.50 L85.50,680.79 L126.00,680.79 L126.00,675.77 L166.50,675.77 L166.50,672.52 L207.00,672.52 L207.00,670.43 L247.50,670.43 L247.50,669.80 L288.00,669.80" fill="none" stroke="#ff0000" stroke-width="1.5" />
<path d="M45.00,696.59 L85.50,696.59 L85.50,681.10 L126.00,681.10 L126.00,675.87 L166.50,675.87 L166.50,672.63 L207.00,672.63 L207.00,670.43 L247.50,670.43 L247.50,669.80 L288.00,669.80" fill="none" stroke="#0000ff" stroke-width="1.5" stroke-dasharray="3.4 3.2"/>
<line x1="45.00" y1="736.05" x2="85.50" y2="736.05" stroke="#000" stroke-width="1.3" />
<line x1="85.50" y1="732.08" x2="126.00" y2="732.08" stroke="#000" stroke-width="1.3" />
<line x1="126.00" y1="727.16" x2="166.50" y2="727.16" stroke="#000" stroke-width="1.3" />
<line x1="166.50" y1="724.65" x2="207.00" y2="724.65" stroke="#000" stroke-width="1.3" />
<line x1="207.00" y1="722.87" x2="247.50" y2="722.87" stroke="#000" stroke-width="1.3" />
<line x1="247.50" y1="722.13" x2="288.00" y2="722.13" stroke="#000" stroke-width="1.3" />
<line x1="65.25" y1="732.91" x2="65.25" y2="739.19" stroke="#000" stroke-width="1.1" />
<circle cx="65.25" cy="736.05" r="2.05" fill="#000"/>
<line x1="105.75" y1="731.45" x2="105.75" y2="732.70" stroke="#000" stroke-width="1.1" />
<circle cx="105.75" cy="732.08" r="2.05" fill="#000"/>
<circle cx="146.25" cy="727.16" r="2.05" fill="#000"/>
<circle cx="186.75" cy="724.65" r="2.05" fill="#000"/>
<circle cx="227.25" cy="722.87" r="2.05" fill="#000"/>
<circle cx="267.75" cy="722.13" r="2.05" fill="#000"/>
<path d="M45.00,741.71 L85.50,741.71 L85.50,731.55 L126.00,731.55 L126.00,727.05 L166.50,727.05 L166.50,724.54 L207.00,724.54 L207.00,722.87 L247.50,722.87 L247.50,722.13 L288.00,722.13" fill="none" stroke="#ff0000" stroke-width="1.5" />
<path d="M45.00,745.37 L85.50,745.37 L85.50,732.60 L126.00,732.60 L126.00,727.26 L166.50,727.26 L166.50,724.65 L207.00,724.65 L207.00,722.87 L247.50,722.87 L247.50,722.13 L288.00,722.13" fill="none" stroke="#0000ff" stroke-width="1.5" stroke-dasharray="3.4 3.2"/>
<rect x="45.00" y="450.00" width="283.50" height="376.80" fill="none" stroke="#4a4a4a" stroke-width="1.25"/>
<line x1="45.00" y1="816.33" x2="50.00" y2="816.33" stroke="#222" stroke-width="0.9" />
<line x1="45.00" y1="805.87" x2="50.00" y2="805.87" stroke="#222" stroke-width="0.9" />
<line x1="45.00" y1="795.40" x2="50.00" y2="795.40" stroke="#222" stroke-width="0.9" />
<line x1="45.00" y1="784.93" x2="50.00" y2="784.93" stroke="#222" stroke-width="0.9" />
<line x1="45.00" y1="774.47" x2="55.00" y2="774.47" stroke="#222" stroke-width="0.9" />
<line x1="45.00" y1="764.00" x2="50.00" y2="764.00" stroke="#222" stroke-width="0.9" />
<line x1="45.00" y1="753.53" x2="50.00" y2="753.53" stroke="#222" stroke-width="0.9" />
<line x1="45.00" y1="743.07" x2="50.00" y2="743.07" stroke="#222" stroke-width="0.9" />
<line x1="45.00" y1="732.60" x2="50.00" y2="732.60" stroke="#222" stroke-width="0.9" />
<line x1="45.00" y1="722.13" x2="55.00" y2="722.13" stroke="#222" stroke-width="0.9" />
<line x1="45.00" y1="711.67" x2="50.00" y2="711.67" stroke="#222" stroke-width="0.9" />
<line x1="45.00" y1="701.20" x2="50.00" y2="701.20" stroke="#222" stroke-width="0.9" />
<line x1="45.00" y1="690.73" x2="50.00" y2="690.73" stroke="#222" stroke-width="0.9" />
<line x1="45.00" y1="680.27" x2="50.00" y2="680.27" stroke="#222" stroke-width="0.9" />
<line x1="45.00" y1="669.80" x2="55.00" y2="669.80" stroke="#222" stroke-width="0.9" />
<line x1="45.00" y1="659.33" x2="50.00" y2="659.33" stroke="#222" stroke-width="0.9" />
<line x1="45.00" y1="648.87" x2="50.00" y2="648.87" stroke="#222" stroke-width="0.9" />
<line x1="45.00" y1="638.40" x2="50.00" y2="638.40" stroke="#222" stroke-width="0.9" />
<line x1="45.00" y1="627.93" x2="50.00" y2="627.93" stroke="#222" stroke-width="0.9" />
<line x1="45.00" y1="617.47" x2="55.00" y2="617.47" stroke="#222" stroke-width="0.9" />
<line x1="45.00" y1="607.00" x2="50.00" y2="607.00" stroke="#222" stroke-width="0.9" />
<line x1="45.00" y1="596.53" x2="50.00" y2="596.53" stroke="#222" stroke-width="0.9" />
<line x1="45.00" y1="586.07" x2="50.00" y2="586.07" stroke="#222" stroke-width="0.9" />
<line x1="45.00" y1="575.60" x2="50.00" y2="575.60" stroke="#222" stroke-width="0.9" />
<line x1="45.00" y1="565.13" x2="55.00" y2="565.13" stroke="#222" stroke-width="0.9" />
<line x1="45.00" y1="554.67" x2="50.00" y2="554.67" stroke="#222" stroke-width="0.9" />
<line x1="45.00" y1="544.20" x2="50.00" y2="544.20" stroke="#222" stroke-width="0.9" />
<line x1="45.00" y1="533.73" x2="50.00" y2="533.73" stroke="#222" stroke-width="0.9" />
<line x1="45.00" y1="523.27" x2="50.00" y2="523.27" stroke="#222" stroke-width="0.9" />
<line x1="45.00" y1="512.80" x2="55.00" y2="512.80" stroke="#222" stroke-width="0.9" />
<line x1="45.00" y1="502.33" x2="50.00" y2="502.33" stroke="#222" stroke-width="0.9" />
<line x1="45.00" y1="491.87" x2="50.00" y2="491.87" stroke="#222" stroke-width="0.9" />
<line x1="45.00" y1="481.40" x2="50.00" y2="481.40" stroke="#222" stroke-width="0.9" />
<line x1="45.00" y1="470.93" x2="50.00" y2="470.93" stroke="#222" stroke-width="0.9" />
<line x1="45.00" y1="460.47" x2="55.00" y2="460.47" stroke="#222" stroke-width="0.9" />
<text x="39.30" y="830.30" font-size="10.5" text-anchor="end" >0</text>
<text x="39.30" y="777.97" font-size="10.5" text-anchor="end" >0.5</text>
<text x="39.30" y="725.63" font-size="10.5" text-anchor="end" >1</text>
<text x="39.30" y="673.30" font-size="10.5" text-anchor="end" >1.5</text>
<text x="39.30" y="620.97" font-size="10.5" text-anchor="end" >2</text>
<text x="39.30" y="568.63" font-size="10.5" text-anchor="end" >2.5</text>
<text x="39.30" y="516.30" font-size="10.5" text-anchor="end" >3</text>
<text x="39.30" y="463.97" font-size="10.5" text-anchor="end" >3.5</text>
<line x1="53.10" y1="826.80" x2="53.10" y2="822.30" stroke="#222" stroke-width="0.9" />
<line x1="61.20" y1="826.80" x2="61.20" y2="822.30" stroke="#222" stroke-width="0.9" />
<line x1="69.30" y1="826.80" x2="69.30" y2="822.30" stroke="#222" stroke-width="0.9" />
<line x1="77.40" y1="826.80" x2="77.40" y2="822.30" stroke="#222" stroke-width="0.9" />
<line x1="85.50" y1="826.80" x2="85.50" y2="816.80" stroke="#222" stroke-width="0.9" />
<line x1="93.60" y1="826.80" x2="93.60" y2="822.30" stroke="#222" stroke-width="0.9" />
<line x1="101.70" y1="826.80" x2="101.70" y2="822.30" stroke="#222" stroke-width="0.9" />
<line x1="109.80" y1="826.80" x2="109.80" y2="822.30" stroke="#222" stroke-width="0.9" />
<line x1="117.90" y1="826.80" x2="117.90" y2="822.30" stroke="#222" stroke-width="0.9" />
<line x1="126.00" y1="826.80" x2="126.00" y2="816.80" stroke="#222" stroke-width="0.9" />
<line x1="134.10" y1="826.80" x2="134.10" y2="822.30" stroke="#222" stroke-width="0.9" />
<line x1="142.20" y1="826.80" x2="142.20" y2="822.30" stroke="#222" stroke-width="0.9" />
<line x1="150.30" y1="826.80" x2="150.30" y2="822.30" stroke="#222" stroke-width="0.9" />
<line x1="158.40" y1="826.80" x2="158.40" y2="822.30" stroke="#222" stroke-width="0.9" />
<line x1="166.50" y1="826.80" x2="166.50" y2="816.80" stroke="#222" stroke-width="0.9" />
<line x1="174.60" y1="826.80" x2="174.60" y2="822.30" stroke="#222" stroke-width="0.9" />
<line x1="182.70" y1="826.80" x2="182.70" y2="822.30" stroke="#222" stroke-width="0.9" />
<line x1="190.80" y1="826.80" x2="190.80" y2="822.30" stroke="#222" stroke-width="0.9" />
<line x1="198.90" y1="826.80" x2="198.90" y2="822.30" stroke="#222" stroke-width="0.9" />
<line x1="207.00" y1="826.80" x2="207.00" y2="816.80" stroke="#222" stroke-width="0.9" />
<line x1="215.10" y1="826.80" x2="215.10" y2="822.30" stroke="#222" stroke-width="0.9" />
<line x1="223.20" y1="826.80" x2="223.20" y2="822.30" stroke="#222" stroke-width="0.9" />
<line x1="231.30" y1="826.80" x2="231.30" y2="822.30" stroke="#222" stroke-width="0.9" />
<line x1="239.40" y1="826.80" x2="239.40" y2="822.30" stroke="#222" stroke-width="0.9" />
<line x1="247.50" y1="826.80" x2="247.50" y2="816.80" stroke="#222" stroke-width="0.9" />
<line x1="255.60" y1="826.80" x2="255.60" y2="822.30" stroke="#222" stroke-width="0.9" />
<line x1="263.70" y1="826.80" x2="263.70" y2="822.30" stroke="#222" stroke-width="0.9" />
<line x1="271.80" y1="826.80" x2="271.80" y2="822.30" stroke="#222" stroke-width="0.9" />
<line x1="279.90" y1="826.80" x2="279.90" y2="822.30" stroke="#222" stroke-width="0.9" />
<line x1="288.00" y1="826.80" x2="288.00" y2="816.80" stroke="#222" stroke-width="0.9" />
<line x1="296.10" y1="826.80" x2="296.10" y2="822.30" stroke="#222" stroke-width="0.9" />
<line x1="304.20" y1="826.80" x2="304.20" y2="822.30" stroke="#222" stroke-width="0.9" />
<line x1="312.30" y1="826.80" x2="312.30" y2="822.30" stroke="#222" stroke-width="0.9" />
<line x1="320.40" y1="826.80" x2="320.40" y2="822.30" stroke="#222" stroke-width="0.9" />
<text x="45.00" y="840.00" font-size="10.5" text-anchor="middle" >0</text>
<text x="85.50" y="840.00" font-size="10.5" text-anchor="middle" >0.1</text>
<text x="126.00" y="840.00" font-size="10.5" text-anchor="middle" >0.2</text>
<text x="166.50" y="840.00" font-size="10.5" text-anchor="middle" >0.3</text>
<text x="207.00" y="840.00" font-size="10.5" text-anchor="middle" >0.4</text>
<text x="247.50" y="840.00" font-size="10.5" text-anchor="middle" >0.5</text>
<text x="288.00" y="840.00" font-size="10.5" text-anchor="middle" >0.6</text>
<text x="328.50" y="840.00" font-size="10.5" text-anchor="middle" >0.7</text>
<text x="296.6" y="464.17" font-size="13.5">+</text>
<text x="304.4" y="464.17" font-size="12" textLength="15.6" lengthAdjust="spacingAndGlyphs">2.5</text>
<text x="296.6" y="516.50" font-size="13.5">+</text>
<text x="304.4" y="516.50" font-size="12" textLength="15.6" lengthAdjust="spacingAndGlyphs">2.0</text>
<text x="296.6" y="568.83" font-size="13.5">+</text>
<text x="304.4" y="568.83" font-size="12" textLength="15.6" lengthAdjust="spacingAndGlyphs">1.5</text>
<text x="296.6" y="621.17" font-size="13.5">+</text>
<text x="304.4" y="621.17" font-size="12" textLength="15.6" lengthAdjust="spacingAndGlyphs">1.0</text>
<text x="296.6" y="673.50" font-size="13.5">+</text>
<text x="304.4" y="673.50" font-size="12" textLength="15.6" lengthAdjust="spacingAndGlyphs">0.5</text>
<text x="44.60" y="441.20" font-size="13.2">Jet</text>
<text x="63.00" y="441.20" font-size="13.2" textLength="31.3" lengthAdjust="spacingAndGlyphs">shape</text>
<text x="97.80" y="441.20" font-size="13.2" textLength="11" lengthAdjust="spacingAndGlyphs">Ψ</text>
<text x="114.00" y="441.20" font-size="13.2">for</text>
<text x="133.00" y="441.20" font-size="13.2" font-style="italic">y</text>
<path d="M150.70,435.10 L147.35,435.10 A2.95,2.95 0 0 0 147.35,441.00 L150.70,441.00 M144.40,438.05 L150.30,438.05" fill="none" stroke="#000" stroke-width="0.85"/>
<text x="155.30" y="441.20" font-size="12.8" textLength="38.10" lengthAdjust="spacingAndGlyphs">0.0–2.8</text>
<text transform="translate(10.3,448.8) rotate(-90)" font-size="15" text-anchor="end"><tspan font-size="13">Ψ</tspan>(<tspan font-style="italic">r</tspan>)</text>
<text x="325.50" y="857.2" font-size="14" font-style="italic" text-anchor="middle">r</text>
<line x1="144.50" y1="755.20" x2="166.80" y2="755.20" stroke="#000" stroke-width="1.1" />
<circle cx="155.65" cy="755.20" r="2" fill="#000"/>
<text x="172.90" y="761.10" font-size="11.6" textLength="58.4" lengthAdjust="spacingAndGlyphs">ATLAS data</text>
<text x="172.90" y="775.05" font-size="11.6" textLength="144.4" lengthAdjust="spacingAndGlyphs">Phys. Rev. D 83 (2011) 052003</text>
<line x1="144.50" y1="783.60" x2="166.80" y2="783.60" stroke="#ff0000" stroke-width="1.35" />
<text x="172.90" y="789.20" font-size="11.6" textLength="61.9" lengthAdjust="spacingAndGlyphs">V<tspan font-size="9.6">INCIA</tspan> 2.001</text>
<line x1="144.50" y1="797.50" x2="166.80" y2="797.50" stroke="#0000ff" stroke-width="1.35" stroke-dasharray="3.4 3.2"/>
<text x="172.90" y="803.10" font-size="11.6" textLength="63.1" lengthAdjust="spacingAndGlyphs">P<tspan font-size="9.6">YTHIA</tspan> 8.215</text>
<path d="M394.30,47.20 L441.45,47.20 L441.45,47.83 L488.60,47.83 L488.60,51.91 L535.75,51.91 L535.75,53.29 L582.90,53.29 L582.90,55.05 L630.05,55.05 L630.05,52.92 L677.20,52.92" fill="none" stroke="#ff0000" stroke-width="1.5" />
<path d="M394.30,48.46 L441.45,48.46 L441.45,48.14 L488.60,48.14 L488.60,50.03 L535.75,50.03 L535.75,50.66 L582.90,50.66 L582.90,52.73 L630.05,52.73 L630.05,50.03 L677.20,50.03" fill="none" stroke="#0000ff" stroke-width="1.5" stroke-dasharray="3.4 3.2"/>
<line x1="394.30" y1="49.40" x2="441.45" y2="49.40" stroke="#000" stroke-width="1.3" />
<line x1="441.45" y1="49.40" x2="488.60" y2="49.40" stroke="#000" stroke-width="1.3" />
<line x1="488.60" y1="49.40" x2="535.75" y2="49.40" stroke="#000" stroke-width="1.3" />
<line x1="535.75" y1="49.40" x2="582.90" y2="49.40" stroke="#000" stroke-width="1.3" />
<line x1="582.90" y1="49.40" x2="630.05" y2="49.40" stroke="#000" stroke-width="1.3" />
<line x1="630.05" y1="49.40" x2="677.20" y2="49.40" stroke="#000" stroke-width="1.3" />
<line x1="417.88" y1="43.12" x2="417.88" y2="55.68" stroke="#000" stroke-width="1.1" />
<circle cx="417.88" cy="49.40" r="2.05" fill="#000"/>
<line x1="465.03" y1="48.46" x2="465.03" y2="50.34" stroke="#000" stroke-width="1.1" />
<circle cx="465.03" cy="49.40" r="2.05" fill="#000"/>
<line x1="512.18" y1="45.00" x2="512.18" y2="53.80" stroke="#000" stroke-width="1.1" />
<circle cx="512.18" cy="49.40" r="2.05" fill="#000"/>
<line x1="559.33" y1="42.49" x2="559.33" y2="56.31" stroke="#000" stroke-width="1.1" />
<circle cx="559.33" cy="49.40" r="2.05" fill="#000"/>
<line x1="606.48" y1="39.35" x2="606.48" y2="59.45" stroke="#000" stroke-width="1.1" />
<circle cx="606.48" cy="49.40" r="2.05" fill="#000"/>
<line x1="653.62" y1="34.96" x2="653.62" y2="63.84" stroke="#000" stroke-width="1.1" />
<circle cx="653.62" cy="49.40" r="2.05" fill="#000"/>
<rect x="394.30" y="18.00" width="282.90" height="62.80" fill="none" stroke="#4a4a4a" stroke-width="1.25"/>
<line x1="394.30" y1="77.66" x2="399.00" y2="77.66" stroke="#222" stroke-width="0.9" />
<line x1="394.30" y1="74.52" x2="403.80" y2="74.52" stroke="#222" stroke-width="0.9" />
<line x1="394.30" y1="71.38" x2="399.00" y2="71.38" stroke="#222" stroke-width="0.9" />
<line x1="394.30" y1="68.24" x2="399.00" y2="68.24" stroke="#222" stroke-width="0.9" />
<line x1="394.30" y1="65.10" x2="399.00" y2="65.10" stroke="#222" stroke-width="0.9" />
<line x1="394.30" y1="61.96" x2="403.80" y2="61.96" stroke="#222" stroke-width="0.9" />
<line x1="394.30" y1="58.82" x2="399.00" y2="58.82" stroke="#222" stroke-width="0.9" />
<line x1="394.30" y1="55.68" x2="399.00" y2="55.68" stroke="#222" stroke-width="0.9" />
<line x1="394.30" y1="52.54" x2="399.00" y2="52.54" stroke="#222" stroke-width="0.9" />
<line x1="394.30" y1="49.40" x2="403.80" y2="49.40" stroke="#222" stroke-width="0.9" />
<line x1="394.30" y1="46.26" x2="399.00" y2="46.26" stroke="#222" stroke-width="0.9" />
<line x1="394.30" y1="43.12" x2="399.00" y2="43.12" stroke="#222" stroke-width="0.9" />
<line x1="394.30" y1="39.98" x2="399.00" y2="39.98" stroke="#222" stroke-width="0.9" />
<line x1="394.30" y1="36.84" x2="403.80" y2="36.84" stroke="#222" stroke-width="0.9" />
<line x1="394.30" y1="33.70" x2="399.00" y2="33.70" stroke="#222" stroke-width="0.9" />
<line x1="394.30" y1="30.56" x2="399.00" y2="30.56" stroke="#222" stroke-width="0.9" />
<line x1="394.30" y1="27.42" x2="399.00" y2="27.42" stroke="#222" stroke-width="0.9" />
<line x1="394.30" y1="24.28" x2="403.80" y2="24.28" stroke="#222" stroke-width="0.9" />
<line x1="394.30" y1="21.14" x2="399.00" y2="21.14" stroke="#222" stroke-width="0.9" />
<text x="388.80" y="27.88" font-size="10.5" text-anchor="end" >1.4</text>
<text x="388.80" y="40.44" font-size="10.5" text-anchor="end" >1.2</text>
<text x="388.80" y="53.00" font-size="10.5" text-anchor="end" >1</text>
<text x="388.80" y="65.56" font-size="10.5" text-anchor="end" >0.8</text>
<text x="388.80" y="78.12" font-size="10.5" text-anchor="end" >0.6</text>
<line x1="403.73" y1="80.80" x2="403.73" y2="76.30" stroke="#222" stroke-width="0.9" />
<line x1="413.16" y1="80.80" x2="413.16" y2="76.30" stroke="#222" stroke-width="0.9" />
<line x1="422.59" y1="80.80" x2="422.59" y2="76.30" stroke="#222" stroke-width="0.9" />
<line x1="432.02" y1="80.80" x2="432.02" y2="76.30" stroke="#222" stroke-width="0.9" />
<line x1="441.45" y1="80.80" x2="441.45" y2="70.80" stroke="#222" stroke-width="0.9" />
<line x1="450.88" y1="80.80" x2="450.88" y2="76.30" stroke="#222" stroke-width="0.9" />
<line x1="460.31" y1="80.80" x2="460.31" y2="76.30" stroke="#222" stroke-width="0.9" />
<line x1="469.74" y1="80.80" x2="469.74" y2="76.30" stroke="#222" stroke-width="0.9" />
<line x1="479.17" y1="80.80" x2="479.17" y2="76.30" stroke="#222" stroke-width="0.9" />
<line x1="488.60" y1="80.80" x2="488.60" y2="70.80" stroke="#222" stroke-width="0.9" />
<line x1="498.03" y1="80.80" x2="498.03" y2="76.30" stroke="#222" stroke-width="0.9" />
<line x1="507.46" y1="80.80" x2="507.46" y2="76.30" stroke="#222" stroke-width="0.9" />
<line x1="516.89" y1="80.80" x2="516.89" y2="76.30" stroke="#222" stroke-width="0.9" />
<line x1="526.32" y1="80.80" x2="526.32" y2="76.30" stroke="#222" stroke-width="0.9" />
<line x1="535.75" y1="80.80" x2="535.75" y2="70.80" stroke="#222" stroke-width="0.9" />
<line x1="545.18" y1="80.80" x2="545.18" y2="76.30" stroke="#222" stroke-width="0.9" />
<line x1="554.61" y1="80.80" x2="554.61" y2="76.30" stroke="#222" stroke-width="0.9" />
<line x1="564.04" y1="80.80" x2="564.04" y2="76.30" stroke="#222" stroke-width="0.9" />
<line x1="573.47" y1="80.80" x2="573.47" y2="76.30" stroke="#222" stroke-width="0.9" />
<line x1="582.90" y1="80.80" x2="582.90" y2="70.80" stroke="#222" stroke-width="0.9" />
<line x1="592.33" y1="80.80" x2="592.33" y2="76.30" stroke="#222" stroke-width="0.9" />
<line x1="601.76" y1="80.80" x2="601.76" y2="76.30" stroke="#222" stroke-width="0.9" />
<line x1="611.19" y1="80.80" x2="611.19" y2="76.30" stroke="#222" stroke-width="0.9" />
<line x1="620.62" y1="80.80" x2="620.62" y2="76.30" stroke="#222" stroke-width="0.9" />
<line x1="630.05" y1="80.80" x2="630.05" y2="70.80" stroke="#222" stroke-width="0.9" />
<line x1="639.48" y1="80.80" x2="639.48" y2="76.30" stroke="#222" stroke-width="0.9" />
<line x1="648.91" y1="80.80" x2="648.91" y2="76.30" stroke="#222" stroke-width="0.9" />
<line x1="658.34" y1="80.80" x2="658.34" y2="76.30" stroke="#222" stroke-width="0.9" />
<line x1="667.77" y1="80.80" x2="667.77" y2="76.30" stroke="#222" stroke-width="0.9" />
<text x="643.40" y="33.10" font-size="12.2" text-anchor="end" >40</text>
<text x="622.90" y="33.10" font-size="13" text-anchor="middle" textLength="9.2" lengthAdjust="spacingAndGlyphs">&lt;</text>
<text x="589.60" y="33.10" font-size="12.2" textLength="23.8" lengthAdjust="spacingAndGlyphs">/GeV</text>
<text x="572.70" y="27.90" font-size="8.6" textLength="15.8" lengthAdjust="spacingAndGlyphs">max</text>
<path d="M576.20,30.60 V35.70 M572.90,35.70 H579.50" stroke="#000" stroke-width="0.75" fill="none"/>
<text x="567.00" y="33.10" font-size="11.2" font-style="italic">p</text>
<text x="557.40" y="33.10" font-size="13" text-anchor="middle" textLength="9.2" lengthAdjust="spacingAndGlyphs">&lt;</text>
<text x="549.00" y="33.10" font-size="12.2" text-anchor="end" textLength="10.6" lengthAdjust="spacingAndGlyphs">30</text>
<text transform="translate(363.3,22.40) rotate(-90)" font-size="15" text-anchor="end" textLength="54" lengthAdjust="spacingAndGlyphs">MC/Data</text>
<path d="M394.30,105.92 L441.45,105.92 L441.45,116.28 L488.60,116.28 L488.60,120.36 L535.75,120.36 L535.75,120.36 L582.90,120.36 L582.90,120.36 L630.05,120.36 L630.05,117.85 L677.20,117.85" fill="none" stroke="#ff0000" stroke-width="1.5" />
<path d="M394.30,110.00 L441.45,110.00 L441.45,114.21 L488.60,114.21 L488.60,114.40 L535.75,114.40 L535.75,115.34 L582.90,115.34 L582.90,115.34 L630.05,115.34 L630.05,112.83 L677.20,112.83" fill="none" stroke="#0000ff" stroke-width="1.5" stroke-dasharray="3.4 3.2"/>
<line x1="394.30" y1="112.20" x2="441.45" y2="112.20" stroke="#000" stroke-width="1.3" />
<line x1="441.45" y1="112.20" x2="488.60" y2="112.20" stroke="#000" stroke-width="1.3" />
<line x1="488.60" y1="112.20" x2="535.75" y2="112.20" stroke="#000" stroke-width="1.3" />
<line x1="535.75" y1="112.20" x2="582.90" y2="112.20" stroke="#000" stroke-width="1.3" />
<line x1="582.90" y1="112.20" x2="630.05" y2="112.20" stroke="#000" stroke-width="1.3" />
<line x1="630.05" y1="112.20" x2="677.20" y2="112.20" stroke="#000" stroke-width="1.3" />
<line x1="417.88" y1="111.57" x2="417.88" y2="112.83" stroke="#000" stroke-width="1.1" />
<circle cx="417.88" cy="112.20" r="2.05" fill="#000"/>
<line x1="465.03" y1="111.26" x2="465.03" y2="113.14" stroke="#000" stroke-width="1.1" />
<circle cx="465.03" cy="112.20" r="2.05" fill="#000"/>
<line x1="512.18" y1="108.12" x2="512.18" y2="116.28" stroke="#000" stroke-width="1.1" />
<circle cx="512.18" cy="112.20" r="2.05" fill="#000"/>
<line x1="559.33" y1="105.92" x2="559.33" y2="118.48" stroke="#000" stroke-width="1.1" />
<circle cx="559.33" cy="112.20" r="2.05" fill="#000"/>
<line x1="606.48" y1="103.41" x2="606.48" y2="120.99" stroke="#000" stroke-width="1.1" />
<circle cx="606.48" cy="112.20" r="2.05" fill="#000"/>
<line x1="653.62" y1="99.64" x2="653.62" y2="124.76" stroke="#000" stroke-width="1.1" />
<circle cx="653.62" cy="112.20" r="2.05" fill="#000"/>
<rect x="394.30" y="80.80" width="282.90" height="62.80" fill="none" stroke="#4a4a4a" stroke-width="1.25"/>
<line x1="394.30" y1="140.46" x2="399.00" y2="140.46" stroke="#222" stroke-width="0.9" />
<line x1="394.30" y1="137.32" x2="403.80" y2="137.32" stroke="#222" stroke-width="0.9" />
<line x1="394.30" y1="134.18" x2="399.00" y2="134.18" stroke="#222" stroke-width="0.9" />
<line x1="394.30" y1="131.04" x2="399.00" y2="131.04" stroke="#222" stroke-width="0.9" />
<line x1="394.30" y1="127.90" x2="399.00" y2="127.90" stroke="#222" stroke-width="0.9" />
<line x1="394.30" y1="124.76" x2="403.80" y2="124.76" stroke="#222" stroke-width="0.9" />
<line x1="394.30" y1="121.62" x2="399.00" y2="121.62" stroke="#222" stroke-width="0.9" />
<line x1="394.30" y1="118.48" x2="399.00" y2="118.48" stroke="#222" stroke-width="0.9" />
<line x1="394.30" y1="115.34" x2="399.00" y2="115.34" stroke="#222" stroke-width="0.9" />
<line x1="394.30" y1="112.20" x2="403.80" y2="112.20" stroke="#222" stroke-width="0.9" />
<line x1="394.30" y1="109.06" x2="399.00" y2="109.06" stroke="#222" stroke-width="0.9" />
<line x1="394.30" y1="105.92" x2="399.00" y2="105.92" stroke="#222" stroke-width="0.9" />
<line x1="394.30" y1="102.78" x2="399.00" y2="102.78" stroke="#222" stroke-width="0.9" />
<line x1="394.30" y1="99.64" x2="403.80" y2="99.64" stroke="#222" stroke-width="0.9" />
<line x1="394.30" y1="96.50" x2="399.00" y2="96.50" stroke="#222" stroke-width="0.9" />
<line x1="394.30" y1="93.36" x2="399.00" y2="93.36" stroke="#222" stroke-width="0.9" />
<line x1="394.30" y1="90.22" x2="399.00" y2="90.22" stroke="#222" stroke-width="0.9" />
<line x1="394.30" y1="87.08" x2="403.80" y2="87.08" stroke="#222" stroke-width="0.9" />
<line x1="394.30" y1="83.94" x2="399.00" y2="83.94" stroke="#222" stroke-width="0.9" />
<text x="388.80" y="90.68" font-size="10.5" text-anchor="end" >1.4</text>
<text x="388.80" y="103.24" font-size="10.5" text-anchor="end" >1.2</text>
<text x="388.80" y="115.80" font-size="10.5" text-anchor="end" >1</text>
<text x="388.80" y="128.36" font-size="10.5" text-anchor="end" >0.8</text>
<text x="388.80" y="140.92" font-size="10.5" text-anchor="end" >0.6</text>
<line x1="403.73" y1="143.60" x2="403.73" y2="139.10" stroke="#222" stroke-width="0.9" />
<line x1="413.16" y1="143.60" x2="413.16" y2="139.10" stroke="#222" stroke-width="0.9" />
<line x1="422.59" y1="143.60" x2="422.59" y2="139.10" stroke="#222" stroke-width="0.9" />
<line x1="432.02" y1="143.60" x2="432.02" y2="139.10" stroke="#222" stroke-width="0.9" />
<line x1="441.45" y1="143.60" x2="441.45" y2="133.60" stroke="#222" stroke-width="0.9" />
<line x1="450.88" y1="143.60" x2="450.88" y2="139.10" stroke="#222" stroke-width="0.9" />
<line x1="460.31" y1="143.60" x2="460.31" y2="139.10" stroke="#222" stroke-width="0.9" />
<line x1="469.74" y1="143.60" x2="469.74" y2="139.10" stroke="#222" stroke-width="0.9" />
<line x1="479.17" y1="143.60" x2="479.17" y2="139.10" stroke="#222" stroke-width="0.9" />
<line x1="488.60" y1="143.60" x2="488.60" y2="133.60" stroke="#222" stroke-width="0.9" />
<line x1="498.03" y1="143.60" x2="498.03" y2="139.10" stroke="#222" stroke-width="0.9" />
<line x1="507.46" y1="143.60" x2="507.46" y2="139.10" stroke="#222" stroke-width="0.9" />
<line x1="516.89" y1="143.60" x2="516.89" y2="139.10" stroke="#222" stroke-width="0.9" />
<line x1="526.32" y1="143.60" x2="526.32" y2="139.10" stroke="#222" stroke-width="0.9" />
<line x1="535.75" y1="143.60" x2="535.75" y2="133.60" stroke="#222" stroke-width="0.9" />
<line x1="545.18" y1="143.60" x2="545.18" y2="139.10" stroke="#222" stroke-width="0.9" />
<line x1="554.61" y1="143.60" x2="554.61" y2="139.10" stroke="#222" stroke-width="0.9" />
<line x1="564.04" y1="143.60" x2="564.04" y2="139.10" stroke="#222" stroke-width="0.9" />
<line x1="573.47" y1="143.60" x2="573.47" y2="139.10" stroke="#222" stroke-width="0.9" />
<line x1="582.90" y1="143.60" x2="582.90" y2="133.60" stroke="#222" stroke-width="0.9" />
<line x1="592.33" y1="143.60" x2="592.33" y2="139.10" stroke="#222" stroke-width="0.9" />
<line x1="601.76" y1="143.60" x2="601.76" y2="139.10" stroke="#222" stroke-width="0.9" />
<line x1="611.19" y1="143.60" x2="611.19" y2="139.10" stroke="#222" stroke-width="0.9" />
<line x1="620.62" y1="143.60" x2="620.62" y2="139.10" stroke="#222" stroke-width="0.9" />
<line x1="630.05" y1="143.60" x2="630.05" y2="133.60" stroke="#222" stroke-width="0.9" />
<line x1="639.48" y1="143.60" x2="639.48" y2="139.10" stroke="#222" stroke-width="0.9" />
<line x1="648.91" y1="143.60" x2="648.91" y2="139.10" stroke="#222" stroke-width="0.9" />
<line x1="658.34" y1="143.60" x2="658.34" y2="139.10" stroke="#222" stroke-width="0.9" />
<line x1="667.77" y1="143.60" x2="667.77" y2="139.10" stroke="#222" stroke-width="0.9" />
<text x="643.40" y="95.90" font-size="12.2" text-anchor="end" >80</text>
<text x="622.90" y="95.90" font-size="13" text-anchor="middle" textLength="9.2" lengthAdjust="spacingAndGlyphs">&lt;</text>
<text x="589.60" y="95.90" font-size="12.2" textLength="23.8" lengthAdjust="spacingAndGlyphs">/GeV</text>
<text x="572.70" y="90.70" font-size="8.6" textLength="15.8" lengthAdjust="spacingAndGlyphs">max</text>
<path d="M576.20,93.40 V98.50 M572.90,98.50 H579.50" stroke="#000" stroke-width="0.75" fill="none"/>
<text x="567.00" y="95.90" font-size="11.2" font-style="italic">p</text>
<text x="557.40" y="95.90" font-size="13" text-anchor="middle" textLength="9.2" lengthAdjust="spacingAndGlyphs">&lt;</text>
<text x="549.00" y="95.90" font-size="12.2" text-anchor="end" textLength="10.6" lengthAdjust="spacingAndGlyphs">60</text>
<text transform="translate(363.3,85.20) rotate(-90)" font-size="15" text-anchor="end" textLength="54" lengthAdjust="spacingAndGlyphs">MC/Data</text>
<path d="M394.30,171.86 L441.45,171.86 L441.45,179.02 L488.60,179.02 L488.60,180.65 L535.75,180.65 L535.75,180.65 L582.90,180.65 L582.90,179.02 L630.05,179.02 L630.05,177.32 L677.20,177.32" fill="none" stroke="#ff0000" stroke-width="1.5" />
<path d="M394.30,174.37 L441.45,174.37 L441.45,175.00 L488.60,175.00 L488.60,175.00 L535.75,175.00 L535.75,175.00 L582.90,175.00 L582.90,174.37 L630.05,174.37 L630.05,174.37 L677.20,174.37" fill="none" stroke="#0000ff" stroke-width="1.5" stroke-dasharray="3.4 3.2"/>
<line x1="394.30" y1="175.00" x2="441.45" y2="175.00" stroke="#000" stroke-width="1.3" />
<line x1="441.45" y1="175.00" x2="488.60" y2="175.00" stroke="#000" stroke-width="1.3" />
<line x1="488.60" y1="175.00" x2="535.75" y2="175.00" stroke="#000" stroke-width="1.3" />
<line x1="535.75" y1="175.00" x2="582.90" y2="175.00" stroke="#000" stroke-width="1.3" />
<line x1="582.90" y1="175.00" x2="630.05" y2="175.00" stroke="#000" stroke-width="1.3" />
<line x1="630.05" y1="175.00" x2="677.20" y2="175.00" stroke="#000" stroke-width="1.3" />
<line x1="417.88" y1="173.74" x2="417.88" y2="176.26" stroke="#000" stroke-width="1.1" />
<circle cx="417.88" cy="175.00" r="2.05" fill="#000"/>
<line x1="465.03" y1="174.06" x2="465.03" y2="175.94" stroke="#000" stroke-width="1.1" />
<circle cx="465.03" cy="175.00" r="2.05" fill="#000"/>
<line x1="512.18" y1="172.49" x2="512.18" y2="177.51" stroke="#000" stroke-width="1.1" />
<circle cx="512.18" cy="175.00" r="2.05" fill="#000"/>
<line x1="559.33" y1="170.60" x2="559.33" y2="179.40" stroke="#000" stroke-width="1.1" />
<circle cx="559.33" cy="175.00" r="2.05" fill="#000"/>
<line x1="606.48" y1="167.46" x2="606.48" y2="182.54" stroke="#000" stroke-width="1.1" />
<circle cx="606.48" cy="175.00" r="2.05" fill="#000"/>
<line x1="653.62" y1="163.70" x2="653.62" y2="186.30" stroke="#000" stroke-width="1.1" />
<circle cx="653.62" cy="175.00" r="2.05" fill="#000"/>
<rect x="394.30" y="143.60" width="282.90" height="62.80" fill="none" stroke="#4a4a4a" stroke-width="1.25"/>
<line x1="394.30" y1="203.26" x2="399.00" y2="203.26" stroke="#222" stroke-width="0.9" />
<line x1="394.30" y1="200.12" x2="403.80" y2="200.12" stroke="#222" stroke-width="0.9" />
<line x1="394.30" y1="196.98" x2="399.00" y2="196.98" stroke="#222" stroke-width="0.9" />
<line x1="394.30" y1="193.84" x2="399.00" y2="193.84" stroke="#222" stroke-width="0.9" />
<line x1="394.30" y1="190.70" x2="399.00" y2="190.70" stroke="#222" stroke-width="0.9" />
<line x1="394.30" y1="187.56" x2="403.80" y2="187.56" stroke="#222" stroke-width="0.9" />
<line x1="394.30" y1="184.42" x2="399.00" y2="184.42" stroke="#222" stroke-width="0.9" />
<line x1="394.30" y1="181.28" x2="399.00" y2="181.28" stroke="#222" stroke-width="0.9" />
<line x1="394.30" y1="178.14" x2="399.00" y2="178.14" stroke="#222" stroke-width="0.9" />
<line x1="394.30" y1="175.00" x2="403.80" y2="175.00" stroke="#222" stroke-width="0.9" />
<line x1="394.30" y1="171.86" x2="399.00" y2="171.86" stroke="#222" stroke-width="0.9" />
<line x1="394.30" y1="168.72" x2="399.00" y2="168.72" stroke="#222" stroke-width="0.9" />
<line x1="394.30" y1="165.58" x2="399.00" y2="165.58" stroke="#222" stroke-width="0.9" />
<line x1="394.30" y1="162.44" x2="403.80" y2="162.44" stroke="#222" stroke-width="0.9" />
<line x1="394.30" y1="159.30" x2="399.00" y2="159.30" stroke="#222" stroke-width="0.9" />
<line x1="394.30" y1="156.16" x2="399.00" y2="156.16" stroke="#222" stroke-width="0.9" />
<line x1="394.30" y1="153.02" x2="399.00" y2="153.02" stroke="#222" stroke-width="0.9" />
<line x1="394.30" y1="149.88" x2="403.80" y2="149.88" stroke="#222" stroke-width="0.9" />
<line x1="394.30" y1="146.74" x2="399.00" y2="146.74" stroke="#222" stroke-width="0.9" />
<text x="388.80" y="153.48" font-size="10.5" text-anchor="end" >1.4</text>
<text x="388.80" y="166.04" font-size="10.5" text-anchor="end" >1.2</text>
<text x="388.80" y="178.60" font-size="10.5" text-anchor="end" >1</text>
<text x="388.80" y="191.16" font-size="10.5" text-anchor="end" >0.8</text>
<text x="388.80" y="203.72" font-size="10.5" text-anchor="end" >0.6</text>
<line x1="403.73" y1="206.40" x2="403.73" y2="201.90" stroke="#222" stroke-width="0.9" />
<line x1="413.16" y1="206.40" x2="413.16" y2="201.90" stroke="#222" stroke-width="0.9" />
<line x1="422.59" y1="206.40" x2="422.59" y2="201.90" stroke="#222" stroke-width="0.9" />
<line x1="432.02" y1="206.40" x2="432.02" y2="201.90" stroke="#222" stroke-width="0.9" />
<line x1="441.45" y1="206.40" x2="441.45" y2="196.40" stroke="#222" stroke-width="0.9" />
<line x1="450.88" y1="206.40" x2="450.88" y2="201.90" stroke="#222" stroke-width="0.9" />
<line x1="460.31" y1="206.40" x2="460.31" y2="201.90" stroke="#222" stroke-width="0.9" />
<line x1="469.74" y1="206.40" x2="469.74" y2="201.90" stroke="#222" stroke-width="0.9" />
<line x1="479.17" y1="206.40" x2="479.17" y2="201.90" stroke="#222" stroke-width="0.9" />
<line x1="488.60" y1="206.40" x2="488.60" y2="196.40" stroke="#222" stroke-width="0.9" />
<line x1="498.03" y1="206.40" x2="498.03" y2="201.90" stroke="#222" stroke-width="0.9" />
<line x1="507.46" y1="206.40" x2="507.46" y2="201.90" stroke="#222" stroke-width="0.9" />
<line x1="516.89" y1="206.40" x2="516.89" y2="201.90" stroke="#222" stroke-width="0.9" />
<line x1="526.32" y1="206.40" x2="526.32" y2="201.90" stroke="#222" stroke-width="0.9" />
<line x1="535.75" y1="206.40" x2="535.75" y2="196.40" stroke="#222" stroke-width="0.9" />
<line x1="545.18" y1="206.40" x2="545.18" y2="201.90" stroke="#222" stroke-width="0.9" />
<line x1="554.61" y1="206.40" x2="554.61" y2="201.90" stroke="#222" stroke-width="0.9" />
<line x1="564.04" y1="206.40" x2="564.04" y2="201.90" stroke="#222" stroke-width="0.9" />
<line x1="573.47" y1="206.40" x2="573.47" y2="201.90" stroke="#222" stroke-width="0.9" />
<line x1="582.90" y1="206.40" x2="582.90" y2="196.40" stroke="#222" stroke-width="0.9" />
<line x1="592.33" y1="206.40" x2="592.33" y2="201.90" stroke="#222" stroke-width="0.9" />
<line x1="601.76" y1="206.40" x2="601.76" y2="201.90" stroke="#222" stroke-width="0.9" />
<line x1="611.19" y1="206.40" x2="611.19" y2="201.90" stroke="#222" stroke-width="0.9" />
<line x1="620.62" y1="206.40" x2="620.62" y2="201.90" stroke="#222" stroke-width="0.9" />
<line x1="630.05" y1="206.40" x2="630.05" y2="196.40" stroke="#222" stroke-width="0.9" />
<line x1="639.48" y1="206.40" x2="639.48" y2="201.90" stroke="#222" stroke-width="0.9" />
<line x1="648.91" y1="206.40" x2="648.91" y2="201.90" stroke="#222" stroke-width="0.9" />
<line x1="658.34" y1="206.40" x2="658.34" y2="201.90" stroke="#222" stroke-width="0.9" />
<line x1="667.77" y1="206.40" x2="667.77" y2="201.90" stroke="#222" stroke-width="0.9" />
<text x="643.40" y="158.70" font-size="12.2" text-anchor="end" textLength="16.4" lengthAdjust="spacingAndGlyphs">160</text>
<text x="618.80" y="158.70" font-size="13" text-anchor="middle" textLength="9.2" lengthAdjust="spacingAndGlyphs">&lt;</text>
<text x="585.50" y="158.70" font-size="12.2" textLength="23.8" lengthAdjust="spacingAndGlyphs">/GeV</text>
<text x="568.60" y="153.50" font-size="8.6" textLength="15.8" lengthAdjust="spacingAndGlyphs">max</text>
<path d="M572.10,156.20 V161.30 M568.80,161.30 H575.40" stroke="#000" stroke-width="0.75" fill="none"/>
<text x="562.90" y="158.70" font-size="11.2" font-style="italic">p</text>
<text x="553.30" y="158.70" font-size="13" text-anchor="middle" textLength="9.2" lengthAdjust="spacingAndGlyphs">&lt;</text>
<text x="544.90" y="158.70" font-size="12.2" text-anchor="end" textLength="16.9" lengthAdjust="spacingAndGlyphs">110</text>
<text transform="translate(363.3,148.00) rotate(-90)" font-size="15" text-anchor="end" textLength="54" lengthAdjust="spacingAndGlyphs">MC/Data</text>
<path d="M394.30,235.29 L441.45,235.29 L441.45,242.51 L488.60,242.51 L488.60,243.70 L535.75,243.70 L535.75,242.82 L582.90,242.82 L582.90,241.57 L630.05,241.57 L630.05,240.81 L677.20,240.81" fill="none" stroke="#ff0000" stroke-width="1.5" />
<line x1="606.48" y1="240.94" x2="606.48" y2="242.20" stroke="#ff0000" stroke-width="1.3" />
<line x1="653.62" y1="240.19" x2="653.62" y2="241.44" stroke="#ff0000" stroke-width="1.3" />
<path d="M394.30,237.80 L441.45,237.80 L441.45,237.80 L488.60,237.80 L488.60,237.17 L535.75,237.17 L535.75,237.17 L582.90,237.17 L582.90,237.17 L630.05,237.17 L630.05,237.17 L677.20,237.17" fill="none" stroke="#0000ff" stroke-width="1.5" stroke-dasharray="3.4 3.2"/>
<line x1="394.30" y1="237.80" x2="441.45" y2="237.80" stroke="#000" stroke-width="1.3" />
<line x1="441.45" y1="237.80" x2="488.60" y2="237.80" stroke="#000" stroke-width="1.3" />
<line x1="488.60" y1="237.80" x2="535.75" y2="237.80" stroke="#000" stroke-width="1.3" />
<line x1="535.75" y1="237.80" x2="582.90" y2="237.80" stroke="#000" stroke-width="1.3" />
<line x1="582.90" y1="237.80" x2="630.05" y2="237.80" stroke="#000" stroke-width="1.3" />
<line x1="630.05" y1="237.80" x2="677.20" y2="237.80" stroke="#000" stroke-width="1.3" />
<line x1="417.88" y1="236.54" x2="417.88" y2="239.06" stroke="#000" stroke-width="1.1" />
<circle cx="417.88" cy="237.80" r="2.05" fill="#000"/>
<line x1="465.03" y1="237.17" x2="465.03" y2="238.43" stroke="#000" stroke-width="1.1" />
<circle cx="465.03" cy="237.80" r="2.05" fill="#000"/>
<line x1="512.18" y1="235.29" x2="512.18" y2="240.31" stroke="#000" stroke-width="1.1" />
<circle cx="512.18" cy="237.80" r="2.05" fill="#000"/>
<line x1="559.33" y1="234.03" x2="559.33" y2="241.57" stroke="#000" stroke-width="1.1" />
<circle cx="559.33" cy="237.80" r="2.05" fill="#000"/>
<line x1="606.48" y1="231.52" x2="606.48" y2="244.08" stroke="#000" stroke-width="1.1" />
<circle cx="606.48" cy="237.80" r="2.05" fill="#000"/>
<line x1="653.62" y1="228.38" x2="653.62" y2="247.22" stroke="#000" stroke-width="1.1" />
<circle cx="653.62" cy="237.80" r="2.05" fill="#000"/>
<rect x="394.30" y="206.40" width="282.90" height="62.80" fill="none" stroke="#4a4a4a" stroke-width="1.25"/>
<line x1="394.30" y1="266.06" x2="399.00" y2="266.06" stroke="#222" stroke-width="0.9" />
<line x1="394.30" y1="262.92" x2="403.80" y2="262.92" stroke="#222" stroke-width="0.9" />
<line x1="394.30" y1="259.78" x2="399.00" y2="259.78" stroke="#222" stroke-width="0.9" />
<line x1="394.30" y1="256.64" x2="399.00" y2="256.64" stroke="#222" stroke-width="0.9" />
<line x1="394.30" y1="253.50" x2="399.00" y2="253.50" stroke="#222" stroke-width="0.9" />
<line x1="394.30" y1="250.36" x2="403.80" y2="250.36" stroke="#222" stroke-width="0.9" />
<line x1="394.30" y1="247.22" x2="399.00" y2="247.22" stroke="#222" stroke-width="0.9" />
<line x1="394.30" y1="244.08" x2="399.00" y2="244.08" stroke="#222" stroke-width="0.9" />
<line x1="394.30" y1="240.94" x2="399.00" y2="240.94" stroke="#222" stroke-width="0.9" />
<line x1="394.30" y1="237.80" x2="403.80" y2="237.80" stroke="#222" stroke-width="0.9" />
<line x1="394.30" y1="234.66" x2="399.00" y2="234.66" stroke="#222" stroke-width="0.9" />
<line x1="394.30" y1="231.52" x2="399.00" y2="231.52" stroke="#222" stroke-width="0.9" />
<line x1="394.30" y1="228.38" x2="399.00" y2="228.38" stroke="#222" stroke-width="0.9" />
<line x1="394.30" y1="225.24" x2="403.80" y2="225.24" stroke="#222" stroke-width="0.9" />
<line x1="394.30" y1="222.10" x2="399.00" y2="222.10" stroke="#222" stroke-width="0.9" />
<line x1="394.30" y1="218.96" x2="399.00" y2="218.96" stroke="#222" stroke-width="0.9" />
<line x1="394.30" y1="215.82" x2="399.00" y2="215.82" stroke="#222" stroke-width="0.9" />
<line x1="394.30" y1="212.68" x2="403.80" y2="212.68" stroke="#222" stroke-width="0.9" />
<line x1="394.30" y1="209.54" x2="399.00" y2="209.54" stroke="#222" stroke-width="0.9" />
<text x="388.80" y="216.28" font-size="10.5" text-anchor="end" >1.4</text>
<text x="388.80" y="228.84" font-size="10.5" text-anchor="end" >1.2</text>
<text x="388.80" y="241.40" font-size="10.5" text-anchor="end" >1</text>
<text x="388.80" y="253.96" font-size="10.5" text-anchor="end" >0.8</text>
<text x="388.80" y="266.52" font-size="10.5" text-anchor="end" >0.6</text>
<line x1="403.73" y1="269.20" x2="403.73" y2="264.70" stroke="#222" stroke-width="0.9" />
<line x1="413.16" y1="269.20" x2="413.16" y2="264.70" stroke="#222" stroke-width="0.9" />
<line x1="422.59" y1="269.20" x2="422.59" y2="264.70" stroke="#222" stroke-width="0.9" />
<line x1="432.02" y1="269.20" x2="432.02" y2="264.70" stroke="#222" stroke-width="0.9" />
<line x1="441.45" y1="269.20" x2="441.45" y2="259.20" stroke="#222" stroke-width="0.9" />
<line x1="450.88" y1="269.20" x2="450.88" y2="264.70" stroke="#222" stroke-width="0.9" />
<line x1="460.31" y1="269.20" x2="460.31" y2="264.70" stroke="#222" stroke-width="0.9" />
<line x1="469.74" y1="269.20" x2="469.74" y2="264.70" stroke="#222" stroke-width="0.9" />
<line x1="479.17" y1="269.20" x2="479.17" y2="264.70" stroke="#222" stroke-width="0.9" />
<line x1="488.60" y1="269.20" x2="488.60" y2="259.20" stroke="#222" stroke-width="0.9" />
<line x1="498.03" y1="269.20" x2="498.03" y2="264.70" stroke="#222" stroke-width="0.9" />
<line x1="507.46" y1="269.20" x2="507.46" y2="264.70" stroke="#222" stroke-width="0.9" />
<line x1="516.89" y1="269.20" x2="516.89" y2="264.70" stroke="#222" stroke-width="0.9" />
<line x1="526.32" y1="269.20" x2="526.32" y2="264.70" stroke="#222" stroke-width="0.9" />
<line x1="535.75" y1="269.20" x2="535.75" y2="259.20" stroke="#222" stroke-width="0.9" />
<line x1="545.18" y1="269.20" x2="545.18" y2="264.70" stroke="#222" stroke-width="0.9" />
<line x1="554.61" y1="269.20" x2="554.61" y2="264.70" stroke="#222" stroke-width="0.9" />
<line x1="564.04" y1="269.20" x2="564.04" y2="264.70" stroke="#222" stroke-width="0.9" />
<line x1="573.47" y1="269.20" x2="573.47" y2="264.70" stroke="#222" stroke-width="0.9" />
<line x1="582.90" y1="269.20" x2="582.90" y2="259.20" stroke="#222" stroke-width="0.9" />
<line x1="592.33" y1="269.20" x2="592.33" y2="264.70" stroke="#222" stroke-width="0.9" />
<line x1="601.76" y1="269.20" x2="601.76" y2="264.70" stroke="#222" stroke-width="0.9" />
<line x1="611.19" y1="269.20" x2="611.19" y2="264.70" stroke="#222" stroke-width="0.9" />
<line x1="620.62" y1="269.20" x2="620.62" y2="264.70" stroke="#222" stroke-width="0.9" />
<line x1="630.05" y1="269.20" x2="630.05" y2="259.20" stroke="#222" stroke-width="0.9" />
<line x1="639.48" y1="269.20" x2="639.48" y2="264.70" stroke="#222" stroke-width="0.9" />
<line x1="648.91" y1="269.20" x2="648.91" y2="264.70" stroke="#222" stroke-width="0.9" />
<line x1="658.34" y1="269.20" x2="658.34" y2="264.70" stroke="#222" stroke-width="0.9" />
<line x1="667.77" y1="269.20" x2="667.77" y2="264.70" stroke="#222" stroke-width="0.9" />
<text x="643.40" y="221.50" font-size="12.2" text-anchor="end" textLength="16.4" lengthAdjust="spacingAndGlyphs">260</text>
<text x="618.80" y="221.50" font-size="13" text-anchor="middle" textLength="9.2" lengthAdjust="spacingAndGlyphs">&lt;</text>
<text x="585.50" y="221.50" font-size="12.2" textLength="23.8" lengthAdjust="spacingAndGlyphs">/GeV</text>
<text x="568.60" y="216.30" font-size="8.6" textLength="15.8" lengthAdjust="spacingAndGlyphs">max</text>
<path d="M572.10,219.00 V224.10 M568.80,224.10 H575.40" stroke="#000" stroke-width="0.75" fill="none"/>
<text x="562.90" y="221.50" font-size="11.2" font-style="italic">p</text>
<text x="553.30" y="221.50" font-size="13" text-anchor="middle" textLength="9.2" lengthAdjust="spacingAndGlyphs">&lt;</text>
<text x="544.90" y="221.50" font-size="12.2" text-anchor="end" textLength="16.9" lengthAdjust="spacingAndGlyphs">210</text>
<text transform="translate(363.3,210.80) rotate(-90)" font-size="15" text-anchor="end" textLength="54" lengthAdjust="spacingAndGlyphs">MC/Data</text>
<path d="M394.30,300.60 L441.45,300.60 L441.45,305.62 L488.60,305.62 L488.60,303.43 L535.75,303.43 L535.75,303.74 L582.90,303.74 L582.90,306.88 L630.05,306.88 L630.05,300.60 L677.20,300.60" fill="none" stroke="#ff0000" stroke-width="1.5" />
<line x1="465.03" y1="304.68" x2="465.03" y2="306.57" stroke="#ff0000" stroke-width="1.3" />
<line x1="512.18" y1="302.48" x2="512.18" y2="304.37" stroke="#ff0000" stroke-width="1.3" />
<line x1="559.33" y1="302.80" x2="559.33" y2="304.68" stroke="#ff0000" stroke-width="1.3" />
<line x1="606.48" y1="305.62" x2="606.48" y2="308.14" stroke="#ff0000" stroke-width="1.3" />
<line x1="653.62" y1="299.34" x2="653.62" y2="301.86" stroke="#ff0000" stroke-width="1.3" />
<path d="M394.30,301.86 L441.45,301.86 L441.45,299.34 L488.60,299.34 L488.60,294.32 L535.75,294.32 L535.75,295.89 L582.90,295.89 L582.90,298.09 L630.05,298.09 L630.05,294.95 L677.20,294.95" fill="none" stroke="#0000ff" stroke-width="1.5" stroke-dasharray="3.4 3.2"/>
<line x1="394.30" y1="300.60" x2="441.45" y2="300.60" stroke="#000" stroke-width="1.3" />
<line x1="441.45" y1="300.60" x2="488.60" y2="300.60" stroke="#000" stroke-width="1.3" />
<line x1="488.60" y1="300.60" x2="535.75" y2="300.60" stroke="#000" stroke-width="1.3" />
<line x1="535.75" y1="300.60" x2="582.90" y2="300.60" stroke="#000" stroke-width="1.3" />
<line x1="582.90" y1="300.60" x2="630.05" y2="300.60" stroke="#000" stroke-width="1.3" />
<line x1="630.05" y1="300.60" x2="677.20" y2="300.60" stroke="#000" stroke-width="1.3" />
<line x1="417.88" y1="299.34" x2="417.88" y2="301.86" stroke="#000" stroke-width="1.1" />
<circle cx="417.88" cy="300.60" r="2.05" fill="#000"/>
<line x1="465.03" y1="295.58" x2="465.03" y2="305.62" stroke="#000" stroke-width="1.1" />
<circle cx="465.03" cy="300.60" r="2.05" fill="#000"/>
<line x1="512.18" y1="295.58" x2="512.18" y2="305.62" stroke="#000" stroke-width="1.1" />
<circle cx="512.18" cy="300.60" r="2.05" fill="#000"/>
<line x1="559.33" y1="296.20" x2="559.33" y2="305.00" stroke="#000" stroke-width="1.1" />
<circle cx="559.33" cy="300.60" r="2.05" fill="#000"/>
<line x1="606.48" y1="293.06" x2="606.48" y2="308.14" stroke="#000" stroke-width="1.1" />
<circle cx="606.48" cy="300.60" r="2.05" fill="#000"/>
<line x1="653.62" y1="289.30" x2="653.62" y2="311.90" stroke="#000" stroke-width="1.1" />
<circle cx="653.62" cy="300.60" r="2.05" fill="#000"/>
<rect x="394.30" y="269.20" width="282.90" height="62.80" fill="none" stroke="#4a4a4a" stroke-width="1.25"/>
<line x1="394.30" y1="328.86" x2="399.00" y2="328.86" stroke="#222" stroke-width="0.9" />
<line x1="394.30" y1="325.72" x2="403.80" y2="325.72" stroke="#222" stroke-width="0.9" />
<line x1="394.30" y1="322.58" x2="399.00" y2="322.58" stroke="#222" stroke-width="0.9" />
<line x1="394.30" y1="319.44" x2="399.00" y2="319.44" stroke="#222" stroke-width="0.9" />
<line x1="394.30" y1="316.30" x2="399.00" y2="316.30" stroke="#222" stroke-width="0.9" />
<line x1="394.30" y1="313.16" x2="403.80" y2="313.16" stroke="#222" stroke-width="0.9" />
<line x1="394.30" y1="310.02" x2="399.00" y2="310.02" stroke="#222" stroke-width="0.9" />
<line x1="394.30" y1="306.88" x2="399.00" y2="306.88" stroke="#222" stroke-width="0.9" />
<line x1="394.30" y1="303.74" x2="399.00" y2="303.74" stroke="#222" stroke-width="0.9" />
<line x1="394.30" y1="300.60" x2="403.80" y2="300.60" stroke="#222" stroke-width="0.9" />
<line x1="394.30" y1="297.46" x2="399.00" y2="297.46" stroke="#222" stroke-width="0.9" />
<line x1="394.30" y1="294.32" x2="399.00" y2="294.32" stroke="#222" stroke-width="0.9" />
<line x1="394.30" y1="291.18" x2="399.00" y2="291.18" stroke="#222" stroke-width="0.9" />
<line x1="394.30" y1="288.04" x2="403.80" y2="288.04" stroke="#222" stroke-width="0.9" />
<line x1="394.30" y1="284.90" x2="399.00" y2="284.90" stroke="#222" stroke-width="0.9" />
<line x1="394.30" y1="281.76" x2="399.00" y2="281.76" stroke="#222" stroke-width="0.9" />
<line x1="394.30" y1="278.62" x2="399.00" y2="278.62" stroke="#222" stroke-width="0.9" />
<line x1="394.30" y1="275.48" x2="403.80" y2="275.48" stroke="#222" stroke-width="0.9" />
<line x1="394.30" y1="272.34" x2="399.00" y2="272.34" stroke="#222" stroke-width="0.9" />
<text x="388.80" y="279.08" font-size="10.5" text-anchor="end" >1.4</text>
<text x="388.80" y="291.64" font-size="10.5" text-anchor="end" >1.2</text>
<text x="388.80" y="304.20" font-size="10.5" text-anchor="end" >1</text>
<text x="388.80" y="316.76" font-size="10.5" text-anchor="end" >0.8</text>
<text x="388.80" y="329.32" font-size="10.5" text-anchor="end" >0.6</text>
<line x1="403.73" y1="332.00" x2="403.73" y2="327.50" stroke="#222" stroke-width="0.9" />
<line x1="413.16" y1="332.00" x2="413.16" y2="327.50" stroke="#222" stroke-width="0.9" />
<line x1="422.59" y1="332.00" x2="422.59" y2="327.50" stroke="#222" stroke-width="0.9" />
<line x1="432.02" y1="332.00" x2="432.02" y2="327.50" stroke="#222" stroke-width="0.9" />
<line x1="441.45" y1="332.00" x2="441.45" y2="322.00" stroke="#222" stroke-width="0.9" />
<line x1="450.88" y1="332.00" x2="450.88" y2="327.50" stroke="#222" stroke-width="0.9" />
<line x1="460.31" y1="332.00" x2="460.31" y2="327.50" stroke="#222" stroke-width="0.9" />
<line x1="469.74" y1="332.00" x2="469.74" y2="327.50" stroke="#222" stroke-width="0.9" />
<line x1="479.17" y1="332.00" x2="479.17" y2="327.50" stroke="#222" stroke-width="0.9" />
<line x1="488.60" y1="332.00" x2="488.60" y2="322.00" stroke="#222" stroke-width="0.9" />
<line x1="498.03" y1="332.00" x2="498.03" y2="327.50" stroke="#222" stroke-width="0.9" />
<line x1="507.46" y1="332.00" x2="507.46" y2="327.50" stroke="#222" stroke-width="0.9" />
<line x1="516.89" y1="332.00" x2="516.89" y2="327.50" stroke="#222" stroke-width="0.9" />
<line x1="526.32" y1="332.00" x2="526.32" y2="327.50" stroke="#222" stroke-width="0.9" />
<line x1="535.75" y1="332.00" x2="535.75" y2="322.00" stroke="#222" stroke-width="0.9" />
<line x1="545.18" y1="332.00" x2="545.18" y2="327.50" stroke="#222" stroke-width="0.9" />
<line x1="554.61" y1="332.00" x2="554.61" y2="327.50" stroke="#222" stroke-width="0.9" />
<line x1="564.04" y1="332.00" x2="564.04" y2="327.50" stroke="#222" stroke-width="0.9" />
<line x1="573.47" y1="332.00" x2="573.47" y2="327.50" stroke="#222" stroke-width="0.9" />
<line x1="582.90" y1="332.00" x2="582.90" y2="322.00" stroke="#222" stroke-width="0.9" />
<line x1="592.33" y1="332.00" x2="592.33" y2="327.50" stroke="#222" stroke-width="0.9" />
<line x1="601.76" y1="332.00" x2="601.76" y2="327.50" stroke="#222" stroke-width="0.9" />
<line x1="611.19" y1="332.00" x2="611.19" y2="327.50" stroke="#222" stroke-width="0.9" />
<line x1="620.62" y1="332.00" x2="620.62" y2="327.50" stroke="#222" stroke-width="0.9" />
<line x1="630.05" y1="332.00" x2="630.05" y2="322.00" stroke="#222" stroke-width="0.9" />
<line x1="639.48" y1="332.00" x2="639.48" y2="327.50" stroke="#222" stroke-width="0.9" />
<line x1="648.91" y1="332.00" x2="648.91" y2="327.50" stroke="#222" stroke-width="0.9" />
<line x1="658.34" y1="332.00" x2="658.34" y2="327.50" stroke="#222" stroke-width="0.9" />
<line x1="667.77" y1="332.00" x2="667.77" y2="327.50" stroke="#222" stroke-width="0.9" />
<text x="643.40" y="284.30" font-size="12.2" text-anchor="end" textLength="16.4" lengthAdjust="spacingAndGlyphs">400</text>
<text x="618.80" y="284.30" font-size="13" text-anchor="middle" textLength="9.2" lengthAdjust="spacingAndGlyphs">&lt;</text>
<text x="585.50" y="284.30" font-size="12.2" textLength="23.8" lengthAdjust="spacingAndGlyphs">/GeV</text>
<text x="568.60" y="279.10" font-size="8.6" textLength="15.8" lengthAdjust="spacingAndGlyphs">max</text>
<path d="M572.10,281.80 V286.90 M568.80,286.90 H575.40" stroke="#000" stroke-width="0.75" fill="none"/>
<text x="562.90" y="284.30" font-size="11.2" font-style="italic">p</text>
<text x="553.30" y="284.30" font-size="13" text-anchor="middle" textLength="9.2" lengthAdjust="spacingAndGlyphs">&lt;</text>
<text x="544.90" y="284.30" font-size="12.2" text-anchor="end" textLength="16.9" lengthAdjust="spacingAndGlyphs">310</text>
<text transform="translate(363.3,273.60) rotate(-90)" font-size="15" text-anchor="end" textLength="54" lengthAdjust="spacingAndGlyphs">MC/Data</text>
<path d="M394.30,359.63 L441.45,359.63 L441.45,379.60 L488.60,379.60 L488.60,369.68 L535.75,369.68 L535.75,373.45 L582.90,373.45 L582.90,371.56 L630.05,371.56 L630.05,364.78 L677.20,364.78" fill="none" stroke="#ff0000" stroke-width="1.5" />
<line x1="465.03" y1="375.58" x2="465.03" y2="383.62" stroke="#ff0000" stroke-width="1.3" />
<line x1="512.18" y1="366.85" x2="512.18" y2="372.51" stroke="#ff0000" stroke-width="1.3" />
<line x1="559.33" y1="370.94" x2="559.33" y2="375.96" stroke="#ff0000" stroke-width="1.3" />
<line x1="606.48" y1="369.05" x2="606.48" y2="374.08" stroke="#ff0000" stroke-width="1.3" />
<line x1="653.62" y1="362.90" x2="653.62" y2="366.67" stroke="#ff0000" stroke-width="1.3" />
<path d="M394.30,362.77 L441.45,362.77 L441.45,369.99 L488.60,369.99 L488.60,359.32 L535.75,359.32 L535.75,363.40 L582.90,363.40 L582.90,366.23 L630.05,366.23 L630.05,359.32 L677.20,359.32" fill="none" stroke="#0000ff" stroke-width="1.5" stroke-dasharray="3.4 3.2"/>
<line x1="394.30" y1="363.40" x2="441.45" y2="363.40" stroke="#000" stroke-width="1.3" />
<line x1="441.45" y1="363.40" x2="488.60" y2="363.40" stroke="#000" stroke-width="1.3" />
<line x1="488.60" y1="363.40" x2="535.75" y2="363.40" stroke="#000" stroke-width="1.3" />
<line x1="535.75" y1="363.40" x2="582.90" y2="363.40" stroke="#000" stroke-width="1.3" />
<line x1="582.90" y1="363.40" x2="630.05" y2="363.40" stroke="#000" stroke-width="1.3" />
<line x1="630.05" y1="363.40" x2="677.20" y2="363.40" stroke="#000" stroke-width="1.3" />
<line x1="417.88" y1="362.14" x2="417.88" y2="364.66" stroke="#000" stroke-width="1.1" />
<circle cx="417.88" cy="363.40" r="2.05" fill="#000"/>
<line x1="465.03" y1="355.99" x2="465.03" y2="370.81" stroke="#000" stroke-width="1.1" />
<circle cx="465.03" cy="363.40" r="2.05" fill="#000"/>
<line x1="512.18" y1="352.10" x2="512.18" y2="374.70" stroke="#000" stroke-width="1.1" />
<circle cx="512.18" cy="363.40" r="2.05" fill="#000"/>
<line x1="559.33" y1="349.58" x2="559.33" y2="377.22" stroke="#000" stroke-width="1.1" />
<circle cx="559.33" cy="363.40" r="2.05" fill="#000"/>
<line x1="606.48" y1="349.58" x2="606.48" y2="377.22" stroke="#000" stroke-width="1.1" />
<circle cx="606.48" cy="363.40" r="2.05" fill="#000"/>
<line x1="653.62" y1="348.96" x2="653.62" y2="377.84" stroke="#000" stroke-width="1.1" />
<circle cx="653.62" cy="363.40" r="2.05" fill="#000"/>
<rect x="394.30" y="332.00" width="282.90" height="62.80" fill="none" stroke="#4a4a4a" stroke-width="1.25"/>
<line x1="394.30" y1="391.66" x2="399.00" y2="391.66" stroke="#222" stroke-width="0.9" />
<line x1="394.30" y1="388.52" x2="403.80" y2="388.52" stroke="#222" stroke-width="0.9" />
<line x1="394.30" y1="385.38" x2="399.00" y2="385.38" stroke="#222" stroke-width="0.9" />
<line x1="394.30" y1="382.24" x2="399.00" y2="382.24" stroke="#222" stroke-width="0.9" />
<line x1="394.30" y1="379.10" x2="399.00" y2="379.10" stroke="#222" stroke-width="0.9" />
<line x1="394.30" y1="375.96" x2="403.80" y2="375.96" stroke="#222" stroke-width="0.9" />
<line x1="394.30" y1="372.82" x2="399.00" y2="372.82" stroke="#222" stroke-width="0.9" />
<line x1="394.30" y1="369.68" x2="399.00" y2="369.68" stroke="#222" stroke-width="0.9" />
<line x1="394.30" y1="366.54" x2="399.00" y2="366.54" stroke="#222" stroke-width="0.9" />
<line x1="394.30" y1="363.40" x2="403.80" y2="363.40" stroke="#222" stroke-width="0.9" />
<line x1="394.30" y1="360.26" x2="399.00" y2="360.26" stroke="#222" stroke-width="0.9" />
<line x1="394.30" y1="357.12" x2="399.00" y2="357.12" stroke="#222" stroke-width="0.9" />
<line x1="394.30" y1="353.98" x2="399.00" y2="353.98" stroke="#222" stroke-width="0.9" />
<line x1="394.30" y1="350.84" x2="403.80" y2="350.84" stroke="#222" stroke-width="0.9" />
<line x1="394.30" y1="347.70" x2="399.00" y2="347.70" stroke="#222" stroke-width="0.9" />
<line x1="394.30" y1="344.56" x2="399.00" y2="344.56" stroke="#222" stroke-width="0.9" />
<line x1="394.30" y1="341.42" x2="399.00" y2="341.42" stroke="#222" stroke-width="0.9" />
<line x1="394.30" y1="338.28" x2="403.80" y2="338.28" stroke="#222" stroke-width="0.9" />
<line x1="394.30" y1="335.14" x2="399.00" y2="335.14" stroke="#222" stroke-width="0.9" />
<text x="388.80" y="341.88" font-size="10.5" text-anchor="end" >1.4</text>
<text x="388.80" y="354.44" font-size="10.5" text-anchor="end" >1.2</text>
<text x="388.80" y="367.00" font-size="10.5" text-anchor="end" >1</text>
<text x="388.80" y="379.56" font-size="10.5" text-anchor="end" >0.8</text>
<text x="388.80" y="392.12" font-size="10.5" text-anchor="end" >0.6</text>
<line x1="403.73" y1="394.80" x2="403.73" y2="390.30" stroke="#222" stroke-width="0.9" />
<line x1="413.16" y1="394.80" x2="413.16" y2="390.30" stroke="#222" stroke-width="0.9" />
<line x1="422.59" y1="394.80" x2="422.59" y2="390.30" stroke="#222" stroke-width="0.9" />
<line x1="432.02" y1="394.80" x2="432.02" y2="390.30" stroke="#222" stroke-width="0.9" />
<line x1="441.45" y1="394.80" x2="441.45" y2="384.80" stroke="#222" stroke-width="0.9" />
<line x1="450.88" y1="394.80" x2="450.88" y2="390.30" stroke="#222" stroke-width="0.9" />
<line x1="460.31" y1="394.80" x2="460.31" y2="390.30" stroke="#222" stroke-width="0.9" />
<line x1="469.74" y1="394.80" x2="469.74" y2="390.30" stroke="#222" stroke-width="0.9" />
<line x1="479.17" y1="394.80" x2="479.17" y2="390.30" stroke="#222" stroke-width="0.9" />
<line x1="488.60" y1="394.80" x2="488.60" y2="384.80" stroke="#222" stroke-width="0.9" />
<line x1="498.03" y1="394.80" x2="498.03" y2="390.30" stroke="#222" stroke-width="0.9" />
<line x1="507.46" y1="394.80" x2="507.46" y2="390.30" stroke="#222" stroke-width="0.9" />
<line x1="516.89" y1="394.80" x2="516.89" y2="390.30" stroke="#222" stroke-width="0.9" />
<line x1="526.32" y1="394.80" x2="526.32" y2="390.30" stroke="#222" stroke-width="0.9" />
<line x1="535.75" y1="394.80" x2="535.75" y2="384.80" stroke="#222" stroke-width="0.9" />
<line x1="545.18" y1="394.80" x2="545.18" y2="390.30" stroke="#222" stroke-width="0.9" />
<line x1="554.61" y1="394.80" x2="554.61" y2="390.30" stroke="#222" stroke-width="0.9" />
<line x1="564.04" y1="394.80" x2="564.04" y2="390.30" stroke="#222" stroke-width="0.9" />
<line x1="573.47" y1="394.80" x2="573.47" y2="390.30" stroke="#222" stroke-width="0.9" />
<line x1="582.90" y1="394.80" x2="582.90" y2="384.80" stroke="#222" stroke-width="0.9" />
<line x1="592.33" y1="394.80" x2="592.33" y2="390.30" stroke="#222" stroke-width="0.9" />
<line x1="601.76" y1="394.80" x2="601.76" y2="390.30" stroke="#222" stroke-width="0.9" />
<line x1="611.19" y1="394.80" x2="611.19" y2="390.30" stroke="#222" stroke-width="0.9" />
<line x1="620.62" y1="394.80" x2="620.62" y2="390.30" stroke="#222" stroke-width="0.9" />
<line x1="630.05" y1="394.80" x2="630.05" y2="384.80" stroke="#222" stroke-width="0.9" />
<line x1="639.48" y1="394.80" x2="639.48" y2="390.30" stroke="#222" stroke-width="0.9" />
<line x1="648.91" y1="394.80" x2="648.91" y2="390.30" stroke="#222" stroke-width="0.9" />
<line x1="658.34" y1="394.80" x2="658.34" y2="390.30" stroke="#222" stroke-width="0.9" />
<line x1="667.77" y1="394.80" x2="667.77" y2="390.30" stroke="#222" stroke-width="0.9" />
<text x="643.40" y="347.10" font-size="12.2" text-anchor="end" textLength="16.4" lengthAdjust="spacingAndGlyphs">600</text>
<text x="618.80" y="347.10" font-size="13" text-anchor="middle" textLength="9.2" lengthAdjust="spacingAndGlyphs">&lt;</text>
<text x="585.50" y="347.10" font-size="12.2" textLength="23.8" lengthAdjust="spacingAndGlyphs">/GeV</text>
<text x="568.60" y="341.90" font-size="8.6" textLength="15.8" lengthAdjust="spacingAndGlyphs">max</text>
<path d="M572.10,344.60 V349.70 M568.80,349.70 H575.40" stroke="#000" stroke-width="0.75" fill="none"/>
<text x="562.90" y="347.10" font-size="11.2" font-style="italic">p</text>
<text x="553.30" y="347.10" font-size="13" text-anchor="middle" textLength="9.2" lengthAdjust="spacingAndGlyphs">&lt;</text>
<text x="544.90" y="347.10" font-size="12.2" text-anchor="end" textLength="16.9" lengthAdjust="spacingAndGlyphs">500</text>
<text transform="translate(363.3,336.40) rotate(-90)" font-size="15" text-anchor="end" textLength="54" lengthAdjust="spacingAndGlyphs">MC/Data</text>
<text x="394.30" y="408.10" font-size="10.5" text-anchor="middle" >0</text>
<text x="441.45" y="408.10" font-size="10.5" text-anchor="middle" >0.1</text>
<text x="488.60" y="408.10" font-size="10.5" text-anchor="middle" >0.2</text>
<text x="535.75" y="408.10" font-size="10.5" text-anchor="middle" >0.3</text>
<text x="582.90" y="408.10" font-size="10.5" text-anchor="middle" >0.4</text>
<text x="630.05" y="408.10" font-size="10.5" text-anchor="middle" >0.5</text>
<text x="677.20" y="408.10" font-size="10.5" text-anchor="middle" >0.6</text>
<text x="674.20" y="424.80" font-size="14" font-style="italic" text-anchor="middle">r</text>
<path d="M394.30,480.98 L441.45,480.98 L441.45,481.10 L488.60,481.10 L488.60,481.17 L535.75,481.17 L535.75,481.21 L582.90,481.21 L582.90,481.33 L630.05,481.33 L630.05,481.40 L677.20,481.40" fill="none" stroke="#ff0000" stroke-width="1.5" />
<path d="M394.30,481.20 L441.45,481.20 L441.45,481.34 L488.60,481.34 L488.60,481.36 L535.75,481.36 L535.75,481.34 L582.90,481.34 L582.90,481.38 L630.05,481.38 L630.05,481.40 L677.20,481.40" fill="none" stroke="#0000ff" stroke-width="1.5" stroke-dasharray="3.4 3.2"/>
<line x1="394.30" y1="481.40" x2="441.45" y2="481.40" stroke="#000" stroke-width="1.3" />
<line x1="441.45" y1="481.40" x2="488.60" y2="481.40" stroke="#000" stroke-width="1.3" />
<line x1="488.60" y1="481.40" x2="535.75" y2="481.40" stroke="#000" stroke-width="1.3" />
<line x1="535.75" y1="481.40" x2="582.90" y2="481.40" stroke="#000" stroke-width="1.3" />
<line x1="582.90" y1="481.40" x2="630.05" y2="481.40" stroke="#000" stroke-width="1.3" />
<line x1="630.05" y1="481.40" x2="677.20" y2="481.40" stroke="#000" stroke-width="1.3" />
<line x1="417.88" y1="480.85" x2="417.88" y2="481.95" stroke="#000" stroke-width="1.1" />
<circle cx="417.88" cy="481.40" r="2.05" fill="#000"/>
<line x1="465.03" y1="480.92" x2="465.03" y2="481.88" stroke="#000" stroke-width="1.1" />
<circle cx="465.03" cy="481.40" r="2.05" fill="#000"/>
<circle cx="512.18" cy="481.40" r="2.05" fill="#000"/>
<circle cx="559.33" cy="481.40" r="2.05" fill="#000"/>
<circle cx="606.48" cy="481.40" r="2.05" fill="#000"/>
<circle cx="653.62" cy="481.40" r="2.05" fill="#000"/>
<rect x="394.30" y="450.00" width="282.90" height="62.80" fill="none" stroke="#4a4a4a" stroke-width="1.25"/>
<line x1="394.30" y1="509.66" x2="399.00" y2="509.66" stroke="#222" stroke-width="0.9" />
<line x1="394.30" y1="506.52" x2="403.80" y2="506.52" stroke="#222" stroke-width="0.9" />
<line x1="394.30" y1="503.38" x2="399.00" y2="503.38" stroke="#222" stroke-width="0.9" />
<line x1="394.30" y1="500.24" x2="399.00" y2="500.24" stroke="#222" stroke-width="0.9" />
<line x1="394.30" y1="497.10" x2="399.00" y2="497.10" stroke="#222" stroke-width="0.9" />
<line x1="394.30" y1="493.96" x2="403.80" y2="493.96" stroke="#222" stroke-width="0.9" />
<line x1="394.30" y1="490.82" x2="399.00" y2="490.82" stroke="#222" stroke-width="0.9" />
<line x1="394.30" y1="487.68" x2="399.00" y2="487.68" stroke="#222" stroke-width="0.9" />
<line x1="394.30" y1="484.54" x2="399.00" y2="484.54" stroke="#222" stroke-width="0.9" />
<line x1="394.30" y1="481.40" x2="403.80" y2="481.40" stroke="#222" stroke-width="0.9" />
<line x1="394.30" y1="478.26" x2="399.00" y2="478.26" stroke="#222" stroke-width="0.9" />
<line x1="394.30" y1="475.12" x2="399.00" y2="475.12" stroke="#222" stroke-width="0.9" />
<line x1="394.30" y1="471.98" x2="399.00" y2="471.98" stroke="#222" stroke-width="0.9" />
<line x1="394.30" y1="468.84" x2="403.80" y2="468.84" stroke="#222" stroke-width="0.9" />
<line x1="394.30" y1="465.70" x2="399.00" y2="465.70" stroke="#222" stroke-width="0.9" />
<line x1="394.30" y1="462.56" x2="399.00" y2="462.56" stroke="#222" stroke-width="0.9" />
<line x1="394.30" y1="459.42" x2="399.00" y2="459.42" stroke="#222" stroke-width="0.9" />
<line x1="394.30" y1="456.28" x2="403.80" y2="456.28" stroke="#222" stroke-width="0.9" />
<line x1="394.30" y1="453.14" x2="399.00" y2="453.14" stroke="#222" stroke-width="0.9" />
<text x="388.80" y="459.88" font-size="10.5" text-anchor="end" >1.4</text>
<text x="388.80" y="472.44" font-size="10.5" text-anchor="end" >1.2</text>
<text x="388.80" y="485.00" font-size="10.5" text-anchor="end" >1</text>
<text x="388.80" y="497.56" font-size="10.5" text-anchor="end" >0.8</text>
<text x="388.80" y="510.12" font-size="10.5" text-anchor="end" >0.6</text>
<line x1="403.73" y1="512.80" x2="403.73" y2="508.30" stroke="#222" stroke-width="0.9" />
<line x1="413.16" y1="512.80" x2="413.16" y2="508.30" stroke="#222" stroke-width="0.9" />
<line x1="422.59" y1="512.80" x2="422.59" y2="508.30" stroke="#222" stroke-width="0.9" />
<line x1="432.02" y1="512.80" x2="432.02" y2="508.30" stroke="#222" stroke-width="0.9" />
<line x1="441.45" y1="512.80" x2="441.45" y2="502.80" stroke="#222" stroke-width="0.9" />
<line x1="450.88" y1="512.80" x2="450.88" y2="508.30" stroke="#222" stroke-width="0.9" />
<line x1="460.31" y1="512.80" x2="460.31" y2="508.30" stroke="#222" stroke-width="0.9" />
<line x1="469.74" y1="512.80" x2="469.74" y2="508.30" stroke="#222" stroke-width="0.9" />
<line x1="479.17" y1="512.80" x2="479.17" y2="508.30" stroke="#222" stroke-width="0.9" />
<line x1="488.60" y1="512.80" x2="488.60" y2="502.80" stroke="#222" stroke-width="0.9" />
<line x1="498.03" y1="512.80" x2="498.03" y2="508.30" stroke="#222" stroke-width="0.9" />
<line x1="507.46" y1="512.80" x2="507.46" y2="508.30" stroke="#222" stroke-width="0.9" />
<line x1="516.89" y1="512.80" x2="516.89" y2="508.30" stroke="#222" stroke-width="0.9" />
<line x1="526.32" y1="512.80" x2="526.32" y2="508.30" stroke="#222" stroke-width="0.9" />
<line x1="535.75" y1="512.80" x2="535.75" y2="502.80" stroke="#222" stroke-width="0.9" />
<line x1="545.18" y1="512.80" x2="545.18" y2="508.30" stroke="#222" stroke-width="0.9" />
<line x1="554.61" y1="512.80" x2="554.61" y2="508.30" stroke="#222" stroke-width="0.9" />
<line x1="564.04" y1="512.80" x2="564.04" y2="508.30" stroke="#222" stroke-width="0.9" />
<line x1="573.47" y1="512.80" x2="573.47" y2="508.30" stroke="#222" stroke-width="0.9" />
<line x1="582.90" y1="512.80" x2="582.90" y2="502.80" stroke="#222" stroke-width="0.9" />
<line x1="592.33" y1="512.80" x2="592.33" y2="508.30" stroke="#222" stroke-width="0.9" />
<line x1="601.76" y1="512.80" x2="601.76" y2="508.30" stroke="#222" stroke-width="0.9" />
<line x1="611.19" y1="512.80" x2="611.19" y2="508.30" stroke="#222" stroke-width="0.9" />
<line x1="620.62" y1="512.80" x2="620.62" y2="508.30" stroke="#222" stroke-width="0.9" />
<line x1="630.05" y1="512.80" x2="630.05" y2="502.80" stroke="#222" stroke-width="0.9" />
<line x1="639.48" y1="512.80" x2="639.48" y2="508.30" stroke="#222" stroke-width="0.9" />
<line x1="648.91" y1="512.80" x2="648.91" y2="508.30" stroke="#222" stroke-width="0.9" />
<line x1="658.34" y1="512.80" x2="658.34" y2="508.30" stroke="#222" stroke-width="0.9" />
<line x1="667.77" y1="512.80" x2="667.77" y2="508.30" stroke="#222" stroke-width="0.9" />
<text x="643.40" y="465.10" font-size="12.2" text-anchor="end" >40</text>
<text x="622.90" y="465.10" font-size="13" text-anchor="middle" textLength="9.2" lengthAdjust="spacingAndGlyphs">&lt;</text>
<text x="589.60" y="465.10" font-size="12.2" textLength="23.8" lengthAdjust="spacingAndGlyphs">/GeV</text>
<text x="572.70" y="459.90" font-size="8.6" textLength="15.8" lengthAdjust="spacingAndGlyphs">max</text>
<path d="M576.20,462.60 V467.70 M572.90,467.70 H579.50" stroke="#000" stroke-width="0.75" fill="none"/>
<text x="567.00" y="465.10" font-size="11.2" font-style="italic">p</text>
<text x="557.40" y="465.10" font-size="13" text-anchor="middle" textLength="9.2" lengthAdjust="spacingAndGlyphs">&lt;</text>
<text x="549.00" y="465.10" font-size="12.2" text-anchor="end" textLength="10.6" lengthAdjust="spacingAndGlyphs">30</text>
<text transform="translate(363.3,454.40) rotate(-90)" font-size="15" text-anchor="end" textLength="54" lengthAdjust="spacingAndGlyphs">MC/Data</text>
<path d="M394.30,542.95 L441.45,542.95 L441.45,543.63 L488.60,543.63 L488.60,543.87 L535.75,543.87 L535.75,544.09 L582.90,544.09 L582.90,544.16 L630.05,544.16 L630.05,544.20 L677.20,544.20" fill="none" stroke="#ff0000" stroke-width="1.5" />
<path d="M394.30,543.85 L441.45,543.85 L441.45,544.06 L488.60,544.06 L488.60,544.13 L535.75,544.13 L535.75,544.18 L582.90,544.18 L582.90,544.18 L630.05,544.18 L630.05,544.20 L677.20,544.20" fill="none" stroke="#0000ff" stroke-width="1.5" stroke-dasharray="3.4 3.2"/>
<line x1="394.30" y1="544.20" x2="441.45" y2="544.20" stroke="#000" stroke-width="1.3" />
<line x1="441.45" y1="544.20" x2="488.60" y2="544.20" stroke="#000" stroke-width="1.3" />
<line x1="488.60" y1="544.20" x2="535.75" y2="544.20" stroke="#000" stroke-width="1.3" />
<line x1="535.75" y1="544.20" x2="582.90" y2="544.20" stroke="#000" stroke-width="1.3" />
<line x1="582.90" y1="544.20" x2="630.05" y2="544.20" stroke="#000" stroke-width="1.3" />
<line x1="630.05" y1="544.20" x2="677.20" y2="544.20" stroke="#000" stroke-width="1.3" />
<circle cx="417.88" cy="544.20" r="2.05" fill="#000"/>
<circle cx="465.03" cy="544.20" r="2.05" fill="#000"/>
<circle cx="512.18" cy="544.20" r="2.05" fill="#000"/>
<circle cx="559.33" cy="544.20" r="2.05" fill="#000"/>
<circle cx="606.48" cy="544.20" r="2.05" fill="#000"/>
<circle cx="653.62" cy="544.20" r="2.05" fill="#000"/>
<rect x="394.30" y="512.80" width="282.90" height="62.80" fill="none" stroke="#4a4a4a" stroke-width="1.25"/>
<line x1="394.30" y1="572.46" x2="399.00" y2="572.46" stroke="#222" stroke-width="0.9" />
<line x1="394.30" y1="569.32" x2="403.80" y2="569.32" stroke="#222" stroke-width="0.9" />
<line x1="394.30" y1="566.18" x2="399.00" y2="566.18" stroke="#222" stroke-width="0.9" />
<line x1="394.30" y1="563.04" x2="399.00" y2="563.04" stroke="#222" stroke-width="0.9" />
<line x1="394.30" y1="559.90" x2="399.00" y2="559.90" stroke="#222" stroke-width="0.9" />
<line x1="394.30" y1="556.76" x2="403.80" y2="556.76" stroke="#222" stroke-width="0.9" />
<line x1="394.30" y1="553.62" x2="399.00" y2="553.62" stroke="#222" stroke-width="0.9" />
<line x1="394.30" y1="550.48" x2="399.00" y2="550.48" stroke="#222" stroke-width="0.9" />
<line x1="394.30" y1="547.34" x2="399.00" y2="547.34" stroke="#222" stroke-width="0.9" />
<line x1="394.30" y1="544.20" x2="403.80" y2="544.20" stroke="#222" stroke-width="0.9" />
<line x1="394.30" y1="541.06" x2="399.00" y2="541.06" stroke="#222" stroke-width="0.9" />
<line x1="394.30" y1="537.92" x2="399.00" y2="537.92" stroke="#222" stroke-width="0.9" />
<line x1="394.30" y1="534.78" x2="399.00" y2="534.78" stroke="#222" stroke-width="0.9" />
<line x1="394.30" y1="531.64" x2="403.80" y2="531.64" stroke="#222" stroke-width="0.9" />
<line x1="394.30" y1="528.50" x2="399.00" y2="528.50" stroke="#222" stroke-width="0.9" />
<line x1="394.30" y1="525.36" x2="399.00" y2="525.36" stroke="#222" stroke-width="0.9" />
<line x1="394.30" y1="522.22" x2="399.00" y2="522.22" stroke="#222" stroke-width="0.9" />
<line x1="394.30" y1="519.08" x2="403.80" y2="519.08" stroke="#222" stroke-width="0.9" />
<line x1="394.30" y1="515.94" x2="399.00" y2="515.94" stroke="#222" stroke-width="0.9" />
<text x="388.80" y="522.68" font-size="10.5" text-anchor="end" >1.4</text>
<text x="388.80" y="535.24" font-size="10.5" text-anchor="end" >1.2</text>
<text x="388.80" y="547.80" font-size="10.5" text-anchor="end" >1</text>
<text x="388.80" y="560.36" font-size="10.5" text-anchor="end" >0.8</text>
<text x="388.80" y="572.92" font-size="10.5" text-anchor="end" >0.6</text>
<line x1="403.73" y1="575.60" x2="403.73" y2="571.10" stroke="#222" stroke-width="0.9" />
<line x1="413.16" y1="575.60" x2="413.16" y2="571.10" stroke="#222" stroke-width="0.9" />
<line x1="422.59" y1="575.60" x2="422.59" y2="571.10" stroke="#222" stroke-width="0.9" />
<line x1="432.02" y1="575.60" x2="432.02" y2="571.10" stroke="#222" stroke-width="0.9" />
<line x1="441.45" y1="575.60" x2="441.45" y2="565.60" stroke="#222" stroke-width="0.9" />
<line x1="450.88" y1="575.60" x2="450.88" y2="571.10" stroke="#222" stroke-width="0.9" />
<line x1="460.31" y1="575.60" x2="460.31" y2="571.10" stroke="#222" stroke-width="0.9" />
<line x1="469.74" y1="575.60" x2="469.74" y2="571.10" stroke="#222" stroke-width="0.9" />
<line x1="479.17" y1="575.60" x2="479.17" y2="571.10" stroke="#222" stroke-width="0.9" />
<line x1="488.60" y1="575.60" x2="488.60" y2="565.60" stroke="#222" stroke-width="0.9" />
<line x1="498.03" y1="575.60" x2="498.03" y2="571.10" stroke="#222" stroke-width="0.9" />
<line x1="507.46" y1="575.60" x2="507.46" y2="571.10" stroke="#222" stroke-width="0.9" />
<line x1="516.89" y1="575.60" x2="516.89" y2="571.10" stroke="#222" stroke-width="0.9" />
<line x1="526.32" y1="575.60" x2="526.32" y2="571.10" stroke="#222" stroke-width="0.9" />
<line x1="535.75" y1="575.60" x2="535.75" y2="565.60" stroke="#222" stroke-width="0.9" />
<line x1="545.18" y1="575.60" x2="545.18" y2="571.10" stroke="#222" stroke-width="0.9" />
<line x1="554.61" y1="575.60" x2="554.61" y2="571.10" stroke="#222" stroke-width="0.9" />
<line x1="564.04" y1="575.60" x2="564.04" y2="571.10" stroke="#222" stroke-width="0.9" />
<line x1="573.47" y1="575.60" x2="573.47" y2="571.10" stroke="#222" stroke-width="0.9" />
<line x1="582.90" y1="575.60" x2="582.90" y2="565.60" stroke="#222" stroke-width="0.9" />
<line x1="592.33" y1="575.60" x2="592.33" y2="571.10" stroke="#222" stroke-width="0.9" />
<line x1="601.76" y1="575.60" x2="601.76" y2="571.10" stroke="#222" stroke-width="0.9" />
<line x1="611.19" y1="575.60" x2="611.19" y2="571.10" stroke="#222" stroke-width="0.9" />
<line x1="620.62" y1="575.60" x2="620.62" y2="571.10" stroke="#222" stroke-width="0.9" />
<line x1="630.05" y1="575.60" x2="630.05" y2="565.60" stroke="#222" stroke-width="0.9" />
<line x1="639.48" y1="575.60" x2="639.48" y2="571.10" stroke="#222" stroke-width="0.9" />
<line x1="648.91" y1="575.60" x2="648.91" y2="571.10" stroke="#222" stroke-width="0.9" />
<line x1="658.34" y1="575.60" x2="658.34" y2="571.10" stroke="#222" stroke-width="0.9" />
<line x1="667.77" y1="575.60" x2="667.77" y2="571.10" stroke="#222" stroke-width="0.9" />
<text x="643.40" y="527.90" font-size="12.2" text-anchor="end" >80</text>
<text x="622.90" y="527.90" font-size="13" text-anchor="middle" textLength="9.2" lengthAdjust="spacingAndGlyphs">&lt;</text>
<text x="589.60" y="527.90" font-size="12.2" textLength="23.8" lengthAdjust="spacingAndGlyphs">/GeV</text>
<text x="572.70" y="522.70" font-size="8.6" textLength="15.8" lengthAdjust="spacingAndGlyphs">max</text>
<path d="M576.20,525.40 V530.50 M572.90,530.50 H579.50" stroke="#000" stroke-width="0.75" fill="none"/>
<text x="567.00" y="527.90" font-size="11.2" font-style="italic">p</text>
<text x="557.40" y="527.90" font-size="13" text-anchor="middle" textLength="9.2" lengthAdjust="spacingAndGlyphs">&lt;</text>
<text x="549.00" y="527.90" font-size="12.2" text-anchor="end" textLength="10.6" lengthAdjust="spacingAndGlyphs">60</text>
<text transform="translate(363.3,517.20) rotate(-90)" font-size="15" text-anchor="end" textLength="54" lengthAdjust="spacingAndGlyphs">MC/Data</text>
<path d="M394.30,606.23 L441.45,606.23 L441.45,606.78 L488.60,606.78 L488.60,606.92 L535.75,606.92 L535.75,606.97 L582.90,606.97 L582.90,606.97 L630.05,606.97 L630.05,607.00 L677.20,607.00" fill="none" stroke="#ff0000" stroke-width="1.5" />
<path d="M394.30,607.12 L441.45,607.12 L441.45,607.00 L488.60,607.00 L488.60,607.00 L535.75,607.00 L535.75,607.00 L582.90,607.00 L582.90,607.00 L630.05,607.00 L630.05,607.00 L677.20,607.00" fill="none" stroke="#0000ff" stroke-width="1.5" stroke-dasharray="3.4 3.2"/>
<line x1="394.30" y1="607.00" x2="441.45" y2="607.00" stroke="#000" stroke-width="1.3" />
<line x1="441.45" y1="607.00" x2="488.60" y2="607.00" stroke="#000" stroke-width="1.3" />
<line x1="488.60" y1="607.00" x2="535.75" y2="607.00" stroke="#000" stroke-width="1.3" />
<line x1="535.75" y1="607.00" x2="582.90" y2="607.00" stroke="#000" stroke-width="1.3" />
<line x1="582.90" y1="607.00" x2="630.05" y2="607.00" stroke="#000" stroke-width="1.3" />
<line x1="630.05" y1="607.00" x2="677.20" y2="607.00" stroke="#000" stroke-width="1.3" />
<circle cx="417.88" cy="607.00" r="2.05" fill="#000"/>
<circle cx="465.03" cy="607.00" r="2.05" fill="#000"/>
<circle cx="512.18" cy="607.00" r="2.05" fill="#000"/>
<circle cx="559.33" cy="607.00" r="2.05" fill="#000"/>
<circle cx="606.48" cy="607.00" r="2.05" fill="#000"/>
<circle cx="653.62" cy="607.00" r="2.05" fill="#000"/>
<rect x="394.30" y="575.60" width="282.90" height="62.80" fill="none" stroke="#4a4a4a" stroke-width="1.25"/>
<line x1="394.30" y1="635.26" x2="399.00" y2="635.26" stroke="#222" stroke-width="0.9" />
<line x1="394.30" y1="632.12" x2="403.80" y2="632.12" stroke="#222" stroke-width="0.9" />
<line x1="394.30" y1="628.98" x2="399.00" y2="628.98" stroke="#222" stroke-width="0.9" />
<line x1="394.30" y1="625.84" x2="399.00" y2="625.84" stroke="#222" stroke-width="0.9" />
<line x1="394.30" y1="622.70" x2="399.00" y2="622.70" stroke="#222" stroke-width="0.9" />
<line x1="394.30" y1="619.56" x2="403.80" y2="619.56" stroke="#222" stroke-width="0.9" />
<line x1="394.30" y1="616.42" x2="399.00" y2="616.42" stroke="#222" stroke-width="0.9" />
<line x1="394.30" y1="613.28" x2="399.00" y2="613.28" stroke="#222" stroke-width="0.9" />
<line x1="394.30" y1="610.14" x2="399.00" y2="610.14" stroke="#222" stroke-width="0.9" />
<line x1="394.30" y1="607.00" x2="403.80" y2="607.00" stroke="#222" stroke-width="0.9" />
<line x1="394.30" y1="603.86" x2="399.00" y2="603.86" stroke="#222" stroke-width="0.9" />
<line x1="394.30" y1="600.72" x2="399.00" y2="600.72" stroke="#222" stroke-width="0.9" />
<line x1="394.30" y1="597.58" x2="399.00" y2="597.58" stroke="#222" stroke-width="0.9" />
<line x1="394.30" y1="594.44" x2="403.80" y2="594.44" stroke="#222" stroke-width="0.9" />
<line x1="394.30" y1="591.30" x2="399.00" y2="591.30" stroke="#222" stroke-width="0.9" />
<line x1="394.30" y1="588.16" x2="399.00" y2="588.16" stroke="#222" stroke-width="0.9" />
<line x1="394.30" y1="585.02" x2="399.00" y2="585.02" stroke="#222" stroke-width="0.9" />
<line x1="394.30" y1="581.88" x2="403.80" y2="581.88" stroke="#222" stroke-width="0.9" />
<line x1="394.30" y1="578.74" x2="399.00" y2="578.74" stroke="#222" stroke-width="0.9" />
<text x="388.80" y="585.48" font-size="10.5" text-anchor="end" >1.4</text>
<text x="388.80" y="598.04" font-size="10.5" text-anchor="end" >1.2</text>
<text x="388.80" y="610.60" font-size="10.5" text-anchor="end" >1</text>
<text x="388.80" y="623.16" font-size="10.5" text-anchor="end" >0.8</text>
<text x="388.80" y="635.72" font-size="10.5" text-anchor="end" >0.6</text>
<line x1="403.73" y1="638.40" x2="403.73" y2="633.90" stroke="#222" stroke-width="0.9" />
<line x1="413.16" y1="638.40" x2="413.16" y2="633.90" stroke="#222" stroke-width="0.9" />
<line x1="422.59" y1="638.40" x2="422.59" y2="633.90" stroke="#222" stroke-width="0.9" />
<line x1="432.02" y1="638.40" x2="432.02" y2="633.90" stroke="#222" stroke-width="0.9" />
<line x1="441.45" y1="638.40" x2="441.45" y2="628.40" stroke="#222" stroke-width="0.9" />
<line x1="450.88" y1="638.40" x2="450.88" y2="633.90" stroke="#222" stroke-width="0.9" />
<line x1="460.31" y1="638.40" x2="460.31" y2="633.90" stroke="#222" stroke-width="0.9" />
<line x1="469.74" y1="638.40" x2="469.74" y2="633.90" stroke="#222" stroke-width="0.9" />
<line x1="479.17" y1="638.40" x2="479.17" y2="633.90" stroke="#222" stroke-width="0.9" />
<line x1="488.60" y1="638.40" x2="488.60" y2="628.40" stroke="#222" stroke-width="0.9" />
<line x1="498.03" y1="638.40" x2="498.03" y2="633.90" stroke="#222" stroke-width="0.9" />
<line x1="507.46" y1="638.40" x2="507.46" y2="633.90" stroke="#222" stroke-width="0.9" />
<line x1="516.89" y1="638.40" x2="516.89" y2="633.90" stroke="#222" stroke-width="0.9" />
<line x1="526.32" y1="638.40" x2="526.32" y2="633.90" stroke="#222" stroke-width="0.9" />
<line x1="535.75" y1="638.40" x2="535.75" y2="628.40" stroke="#222" stroke-width="0.9" />
<line x1="545.18" y1="638.40" x2="545.18" y2="633.90" stroke="#222" stroke-width="0.9" />
<line x1="554.61" y1="638.40" x2="554.61" y2="633.90" stroke="#222" stroke-width="0.9" />
<line x1="564.04" y1="638.40" x2="564.04" y2="633.90" stroke="#222" stroke-width="0.9" />
<line x1="573.47" y1="638.40" x2="573.47" y2="633.90" stroke="#222" stroke-width="0.9" />
<line x1="582.90" y1="638.40" x2="582.90" y2="628.40" stroke="#222" stroke-width="0.9" />
<line x1="592.33" y1="638.40" x2="592.33" y2="633.90" stroke="#222" stroke-width="0.9" />
<line x1="601.76" y1="638.40" x2="601.76" y2="633.90" stroke="#222" stroke-width="0.9" />
<line x1="611.19" y1="638.40" x2="611.19" y2="633.90" stroke="#222" stroke-width="0.9" />
<line x1="620.62" y1="638.40" x2="620.62" y2="633.90" stroke="#222" stroke-width="0.9" />
<line x1="630.05" y1="638.40" x2="630.05" y2="628.40" stroke="#222" stroke-width="0.9" />
<line x1="639.48" y1="638.40" x2="639.48" y2="633.90" stroke="#222" stroke-width="0.9" />
<line x1="648.91" y1="638.40" x2="648.91" y2="633.90" stroke="#222" stroke-width="0.9" />
<line x1="658.34" y1="638.40" x2="658.34" y2="633.90" stroke="#222" stroke-width="0.9" />
<line x1="667.77" y1="638.40" x2="667.77" y2="633.90" stroke="#222" stroke-width="0.9" />
<text x="643.40" y="590.70" font-size="12.2" text-anchor="end" textLength="16.4" lengthAdjust="spacingAndGlyphs">160</text>
<text x="618.80" y="590.70" font-size="13" text-anchor="middle" textLength="9.2" lengthAdjust="spacingAndGlyphs">&lt;</text>
<text x="585.50" y="590.70" font-size="12.2" textLength="23.8" lengthAdjust="spacingAndGlyphs">/GeV</text>
<text x="568.60" y="585.50" font-size="8.6" textLength="15.8" lengthAdjust="spacingAndGlyphs">max</text>
<path d="M572.10,588.20 V593.30 M568.80,593.30 H575.40" stroke="#000" stroke-width="0.75" fill="none"/>
<text x="562.90" y="590.70" font-size="11.2" font-style="italic">p</text>
<text x="553.30" y="590.70" font-size="13" text-anchor="middle" textLength="9.2" lengthAdjust="spacingAndGlyphs">&lt;</text>
<text x="544.90" y="590.70" font-size="12.2" text-anchor="end" textLength="16.9" lengthAdjust="spacingAndGlyphs">110</text>
<text transform="translate(363.3,580.00) rotate(-90)" font-size="15" text-anchor="end" textLength="54" lengthAdjust="spacingAndGlyphs">MC/Data</text>
<path d="M394.30,668.95 L441.45,668.95 L441.45,669.67 L488.60,669.67 L488.60,669.73 L535.75,669.73 L535.75,669.77 L582.90,669.77 L582.90,669.77 L630.05,669.77 L630.05,669.80 L677.20,669.80" fill="none" stroke="#ff0000" stroke-width="1.5" />
<path d="M394.30,669.80 L441.45,669.80 L441.45,669.83 L488.60,669.83 L488.60,669.80 L535.75,669.80 L535.75,669.80 L582.90,669.80 L582.90,669.80 L630.05,669.80 L630.05,669.80 L677.20,669.80" fill="none" stroke="#0000ff" stroke-width="1.5" stroke-dasharray="3.4 3.2"/>
<line x1="394.30" y1="669.80" x2="441.45" y2="669.80" stroke="#000" stroke-width="1.3" />
<line x1="441.45" y1="669.80" x2="488.60" y2="669.80" stroke="#000" stroke-width="1.3" />
<line x1="488.60" y1="669.80" x2="535.75" y2="669.80" stroke="#000" stroke-width="1.3" />
<line x1="535.75" y1="669.80" x2="582.90" y2="669.80" stroke="#000" stroke-width="1.3" />
<line x1="582.90" y1="669.80" x2="630.05" y2="669.80" stroke="#000" stroke-width="1.3" />
<line x1="630.05" y1="669.80" x2="677.20" y2="669.80" stroke="#000" stroke-width="1.3" />
<circle cx="417.88" cy="669.80" r="2.05" fill="#000"/>
<circle cx="465.03" cy="669.80" r="2.05" fill="#000"/>
<circle cx="512.18" cy="669.80" r="2.05" fill="#000"/>
<circle cx="559.33" cy="669.80" r="2.05" fill="#000"/>
<circle cx="606.48" cy="669.80" r="2.05" fill="#000"/>
<circle cx="653.62" cy="669.80" r="2.05" fill="#000"/>
<rect x="394.30" y="638.40" width="282.90" height="62.80" fill="none" stroke="#4a4a4a" stroke-width="1.25"/>
<line x1="394.30" y1="698.06" x2="399.00" y2="698.06" stroke="#222" stroke-width="0.9" />
<line x1="394.30" y1="694.92" x2="403.80" y2="694.92" stroke="#222" stroke-width="0.9" />
<line x1="394.30" y1="691.78" x2="399.00" y2="691.78" stroke="#222" stroke-width="0.9" />
<line x1="394.30" y1="688.64" x2="399.00" y2="688.64" stroke="#222" stroke-width="0.9" />
<line x1="394.30" y1="685.50" x2="399.00" y2="685.50" stroke="#222" stroke-width="0.9" />
<line x1="394.30" y1="682.36" x2="403.80" y2="682.36" stroke="#222" stroke-width="0.9" />
<line x1="394.30" y1="679.22" x2="399.00" y2="679.22" stroke="#222" stroke-width="0.9" />
<line x1="394.30" y1="676.08" x2="399.00" y2="676.08" stroke="#222" stroke-width="0.9" />
<line x1="394.30" y1="672.94" x2="399.00" y2="672.94" stroke="#222" stroke-width="0.9" />
<line x1="394.30" y1="669.80" x2="403.80" y2="669.80" stroke="#222" stroke-width="0.9" />
<line x1="394.30" y1="666.66" x2="399.00" y2="666.66" stroke="#222" stroke-width="0.9" />
<line x1="394.30" y1="663.52" x2="399.00" y2="663.52" stroke="#222" stroke-width="0.9" />
<line x1="394.30" y1="660.38" x2="399.00" y2="660.38" stroke="#222" stroke-width="0.9" />
<line x1="394.30" y1="657.24" x2="403.80" y2="657.24" stroke="#222" stroke-width="0.9" />
<line x1="394.30" y1="654.10" x2="399.00" y2="654.10" stroke="#222" stroke-width="0.9" />
<line x1="394.30" y1="650.96" x2="399.00" y2="650.96" stroke="#222" stroke-width="0.9" />
<line x1="394.30" y1="647.82" x2="399.00" y2="647.82" stroke="#222" stroke-width="0.9" />
<line x1="394.30" y1="644.68" x2="403.80" y2="644.68" stroke="#222" stroke-width="0.9" />
<line x1="394.30" y1="641.54" x2="399.00" y2="641.54" stroke="#222" stroke-width="0.9" />
<text x="388.80" y="648.28" font-size="10.5" text-anchor="end" >1.4</text>
<text x="388.80" y="660.84" font-size="10.5" text-anchor="end" >1.2</text>
<text x="388.80" y="673.40" font-size="10.5" text-anchor="end" >1</text>
<text x="388.80" y="685.96" font-size="10.5" text-anchor="end" >0.8</text>
<text x="388.80" y="698.52" font-size="10.5" text-anchor="end" >0.6</text>
<line x1="403.73" y1="701.20" x2="403.73" y2="696.70" stroke="#222" stroke-width="0.9" />
<line x1="413.16" y1="701.20" x2="413.16" y2="696.70" stroke="#222" stroke-width="0.9" />
<line x1="422.59" y1="701.20" x2="422.59" y2="696.70" stroke="#222" stroke-width="0.9" />
<line x1="432.02" y1="701.20" x2="432.02" y2="696.70" stroke="#222" stroke-width="0.9" />
<line x1="441.45" y1="701.20" x2="441.45" y2="691.20" stroke="#222" stroke-width="0.9" />
<line x1="450.88" y1="701.20" x2="450.88" y2="696.70" stroke="#222" stroke-width="0.9" />
<line x1="460.31" y1="701.20" x2="460.31" y2="696.70" stroke="#222" stroke-width="0.9" />
<line x1="469.74" y1="701.20" x2="469.74" y2="696.70" stroke="#222" stroke-width="0.9" />
<line x1="479.17" y1="701.20" x2="479.17" y2="696.70" stroke="#222" stroke-width="0.9" />
<line x1="488.60" y1="701.20" x2="488.60" y2="691.20" stroke="#222" stroke-width="0.9" />
<line x1="498.03" y1="701.20" x2="498.03" y2="696.70" stroke="#222" stroke-width="0.9" />
<line x1="507.46" y1="701.20" x2="507.46" y2="696.70" stroke="#222" stroke-width="0.9" />
<line x1="516.89" y1="701.20" x2="516.89" y2="696.70" stroke="#222" stroke-width="0.9" />
<line x1="526.32" y1="701.20" x2="526.32" y2="696.70" stroke="#222" stroke-width="0.9" />
<line x1="535.75" y1="701.20" x2="535.75" y2="691.20" stroke="#222" stroke-width="0.9" />
<line x1="545.18" y1="701.20" x2="545.18" y2="696.70" stroke="#222" stroke-width="0.9" />
<line x1="554.61" y1="701.20" x2="554.61" y2="696.70" stroke="#222" stroke-width="0.9" />
<line x1="564.04" y1="701.20" x2="564.04" y2="696.70" stroke="#222" stroke-width="0.9" />
<line x1="573.47" y1="701.20" x2="573.47" y2="696.70" stroke="#222" stroke-width="0.9" />
<line x1="582.90" y1="701.20" x2="582.90" y2="691.20" stroke="#222" stroke-width="0.9" />
<line x1="592.33" y1="701.20" x2="592.33" y2="696.70" stroke="#222" stroke-width="0.9" />
<line x1="601.76" y1="701.20" x2="601.76" y2="696.70" stroke="#222" stroke-width="0.9" />
<line x1="611.19" y1="701.20" x2="611.19" y2="696.70" stroke="#222" stroke-width="0.9" />
<line x1="620.62" y1="701.20" x2="620.62" y2="696.70" stroke="#222" stroke-width="0.9" />
<line x1="630.05" y1="701.20" x2="630.05" y2="691.20" stroke="#222" stroke-width="0.9" />
<line x1="639.48" y1="701.20" x2="639.48" y2="696.70" stroke="#222" stroke-width="0.9" />
<line x1="648.91" y1="701.20" x2="648.91" y2="696.70" stroke="#222" stroke-width="0.9" />
<line x1="658.34" y1="701.20" x2="658.34" y2="696.70" stroke="#222" stroke-width="0.9" />
<line x1="667.77" y1="701.20" x2="667.77" y2="696.70" stroke="#222" stroke-width="0.9" />
<text x="643.40" y="653.50" font-size="12.2" text-anchor="end" textLength="16.4" lengthAdjust="spacingAndGlyphs">260</text>
<text x="618.80" y="653.50" font-size="13" text-anchor="middle" textLength="9.2" lengthAdjust="spacingAndGlyphs">&lt;</text>
<text x="585.50" y="653.50" font-size="12.2" textLength="23.8" lengthAdjust="spacingAndGlyphs">/GeV</text>
<text x="568.60" y="648.30" font-size="8.6" textLength="15.8" lengthAdjust="spacingAndGlyphs">max</text>
<path d="M572.10,651.00 V656.10 M568.80,656.10 H575.40" stroke="#000" stroke-width="0.75" fill="none"/>
<text x="562.90" y="653.50" font-size="11.2" font-style="italic">p</text>
<text x="553.30" y="653.50" font-size="13" text-anchor="middle" textLength="9.2" lengthAdjust="spacingAndGlyphs">&lt;</text>
<text x="544.90" y="653.50" font-size="12.2" text-anchor="end" textLength="16.9" lengthAdjust="spacingAndGlyphs">210</text>
<text transform="translate(363.3,642.80) rotate(-90)" font-size="15" text-anchor="end" textLength="54" lengthAdjust="spacingAndGlyphs">MC/Data</text>
<path d="M394.30,732.00 L441.45,732.00 L441.45,732.51 L488.60,732.51 L488.60,732.56 L535.75,732.56 L535.75,732.56 L582.90,732.56 L582.90,732.60 L630.05,732.60 L630.05,732.60 L677.20,732.60" fill="none" stroke="#ff0000" stroke-width="1.5" />
<path d="M394.30,733.00 L441.45,733.00 L441.45,732.65 L488.60,732.65 L488.60,732.60 L535.75,732.60 L535.75,732.60 L582.90,732.60 L582.90,732.60 L630.05,732.60 L630.05,732.60 L677.20,732.60" fill="none" stroke="#0000ff" stroke-width="1.5" stroke-dasharray="3.4 3.2"/>
<line x1="394.30" y1="732.60" x2="441.45" y2="732.60" stroke="#000" stroke-width="1.3" />
<line x1="441.45" y1="732.60" x2="488.60" y2="732.60" stroke="#000" stroke-width="1.3" />
<line x1="488.60" y1="732.60" x2="535.75" y2="732.60" stroke="#000" stroke-width="1.3" />
<line x1="535.75" y1="732.60" x2="582.90" y2="732.60" stroke="#000" stroke-width="1.3" />
<line x1="582.90" y1="732.60" x2="630.05" y2="732.60" stroke="#000" stroke-width="1.3" />
<line x1="630.05" y1="732.60" x2="677.20" y2="732.60" stroke="#000" stroke-width="1.3" />
<circle cx="417.88" cy="732.60" r="2.05" fill="#000"/>
<circle cx="465.03" cy="732.60" r="2.05" fill="#000"/>
<circle cx="512.18" cy="732.60" r="2.05" fill="#000"/>
<circle cx="559.33" cy="732.60" r="2.05" fill="#000"/>
<circle cx="606.48" cy="732.60" r="2.05" fill="#000"/>
<circle cx="653.62" cy="732.60" r="2.05" fill="#000"/>
<rect x="394.30" y="701.20" width="282.90" height="62.80" fill="none" stroke="#4a4a4a" stroke-width="1.25"/>
<line x1="394.30" y1="760.86" x2="399.00" y2="760.86" stroke="#222" stroke-width="0.9" />
<line x1="394.30" y1="757.72" x2="403.80" y2="757.72" stroke="#222" stroke-width="0.9" />
<line x1="394.30" y1="754.58" x2="399.00" y2="754.58" stroke="#222" stroke-width="0.9" />
<line x1="394.30" y1="751.44" x2="399.00" y2="751.44" stroke="#222" stroke-width="0.9" />
<line x1="394.30" y1="748.30" x2="399.00" y2="748.30" stroke="#222" stroke-width="0.9" />
<line x1="394.30" y1="745.16" x2="403.80" y2="745.16" stroke="#222" stroke-width="0.9" />
<line x1="394.30" y1="742.02" x2="399.00" y2="742.02" stroke="#222" stroke-width="0.9" />
<line x1="394.30" y1="738.88" x2="399.00" y2="738.88" stroke="#222" stroke-width="0.9" />
<line x1="394.30" y1="735.74" x2="399.00" y2="735.74" stroke="#222" stroke-width="0.9" />
<line x1="394.30" y1="732.60" x2="403.80" y2="732.60" stroke="#222" stroke-width="0.9" />
<line x1="394.30" y1="729.46" x2="399.00" y2="729.46" stroke="#222" stroke-width="0.9" />
<line x1="394.30" y1="726.32" x2="399.00" y2="726.32" stroke="#222" stroke-width="0.9" />
<line x1="394.30" y1="723.18" x2="399.00" y2="723.18" stroke="#222" stroke-width="0.9" />
<line x1="394.30" y1="720.04" x2="403.80" y2="720.04" stroke="#222" stroke-width="0.9" />
<line x1="394.30" y1="716.90" x2="399.00" y2="716.90" stroke="#222" stroke-width="0.9" />
<line x1="394.30" y1="713.76" x2="399.00" y2="713.76" stroke="#222" stroke-width="0.9" />
<line x1="394.30" y1="710.62" x2="399.00" y2="710.62" stroke="#222" stroke-width="0.9" />
<line x1="394.30" y1="707.48" x2="403.80" y2="707.48" stroke="#222" stroke-width="0.9" />
<line x1="394.30" y1="704.34" x2="399.00" y2="704.34" stroke="#222" stroke-width="0.9" />
<text x="388.80" y="711.08" font-size="10.5" text-anchor="end" >1.4</text>
<text x="388.80" y="723.64" font-size="10.5" text-anchor="end" >1.2</text>
<text x="388.80" y="736.20" font-size="10.5" text-anchor="end" >1</text>
<text x="388.80" y="748.76" font-size="10.5" text-anchor="end" >0.8</text>
<text x="388.80" y="761.32" font-size="10.5" text-anchor="end" >0.6</text>
<line x1="403.73" y1="764.00" x2="403.73" y2="759.50" stroke="#222" stroke-width="0.9" />
<line x1="413.16" y1="764.00" x2="413.16" y2="759.50" stroke="#222" stroke-width="0.9" />
<line x1="422.59" y1="764.00" x2="422.59" y2="759.50" stroke="#222" stroke-width="0.9" />
<line x1="432.02" y1="764.00" x2="432.02" y2="759.50" stroke="#222" stroke-width="0.9" />
<line x1="441.45" y1="764.00" x2="441.45" y2="754.00" stroke="#222" stroke-width="0.9" />
<line x1="450.88" y1="764.00" x2="450.88" y2="759.50" stroke="#222" stroke-width="0.9" />
<line x1="460.31" y1="764.00" x2="460.31" y2="759.50" stroke="#222" stroke-width="0.9" />
<line x1="469.74" y1="764.00" x2="469.74" y2="759.50" stroke="#222" stroke-width="0.9" />
<line x1="479.17" y1="764.00" x2="479.17" y2="759.50" stroke="#222" stroke-width="0.9" />
<line x1="488.60" y1="764.00" x2="488.60" y2="754.00" stroke="#222" stroke-width="0.9" />
<line x1="498.03" y1="764.00" x2="498.03" y2="759.50" stroke="#222" stroke-width="0.9" />
<line x1="507.46" y1="764.00" x2="507.46" y2="759.50" stroke="#222" stroke-width="0.9" />
<line x1="516.89" y1="764.00" x2="516.89" y2="759.50" stroke="#222" stroke-width="0.9" />
<line x1="526.32" y1="764.00" x2="526.32" y2="759.50" stroke="#222" stroke-width="0.9" />
<line x1="535.75" y1="764.00" x2="535.75" y2="754.00" stroke="#222" stroke-width="0.9" />
<line x1="545.18" y1="764.00" x2="545.18" y2="759.50" stroke="#222" stroke-width="0.9" />
<line x1="554.61" y1="764.00" x2="554.61" y2="759.50" stroke="#222" stroke-width="0.9" />
<line x1="564.04" y1="764.00" x2="564.04" y2="759.50" stroke="#222" stroke-width="0.9" />
<line x1="573.47" y1="764.00" x2="573.47" y2="759.50" stroke="#222" stroke-width="0.9" />
<line x1="582.90" y1="764.00" x2="582.90" y2="754.00" stroke="#222" stroke-width="0.9" />
<line x1="592.33" y1="764.00" x2="592.33" y2="759.50" stroke="#222" stroke-width="0.9" />
<line x1="601.76" y1="764.00" x2="601.76" y2="759.50" stroke="#222" stroke-width="0.9" />
<line x1="611.19" y1="764.00" x2="611.19" y2="759.50" stroke="#222" stroke-width="0.9" />
<line x1="620.62" y1="764.00" x2="620.62" y2="759.50" stroke="#222" stroke-width="0.9" />
<line x1="630.05" y1="764.00" x2="630.05" y2="754.00" stroke="#222" stroke-width="0.9" />
<line x1="639.48" y1="764.00" x2="639.48" y2="759.50" stroke="#222" stroke-width="0.9" />
<line x1="648.91" y1="764.00" x2="648.91" y2="759.50" stroke="#222" stroke-width="0.9" />
<line x1="658.34" y1="764.00" x2="658.34" y2="759.50" stroke="#222" stroke-width="0.9" />
<line x1="667.77" y1="764.00" x2="667.77" y2="759.50" stroke="#222" stroke-width="0.9" />
<text x="643.40" y="716.30" font-size="12.2" text-anchor="end" textLength="16.4" lengthAdjust="spacingAndGlyphs">400</text>
<text x="618.80" y="716.30" font-size="13" text-anchor="middle" textLength="9.2" lengthAdjust="spacingAndGlyphs">&lt;</text>
<text x="585.50" y="716.30" font-size="12.2" textLength="23.8" lengthAdjust="spacingAndGlyphs">/GeV</text>
<text x="568.60" y="711.10" font-size="8.6" textLength="15.8" lengthAdjust="spacingAndGlyphs">max</text>
<path d="M572.10,713.80 V718.90 M568.80,718.90 H575.40" stroke="#000" stroke-width="0.75" fill="none"/>
<text x="562.90" y="716.30" font-size="11.2" font-style="italic">p</text>
<text x="553.30" y="716.30" font-size="13" text-anchor="middle" textLength="9.2" lengthAdjust="spacingAndGlyphs">&lt;</text>
<text x="544.90" y="716.30" font-size="12.2" text-anchor="end" textLength="16.9" lengthAdjust="spacingAndGlyphs">310</text>
<text transform="translate(363.3,705.60) rotate(-90)" font-size="15" text-anchor="end" textLength="54" lengthAdjust="spacingAndGlyphs">MC/Data</text>
<path d="M394.30,799.31 L441.45,799.31 L441.45,795.05 L488.60,795.05 L488.60,795.33 L535.75,795.33 L535.75,795.34 L582.90,795.34 L582.90,795.40 L630.05,795.40 L630.05,795.40 L677.20,795.40" fill="none" stroke="#ff0000" stroke-width="1.5" />
<path d="M394.30,801.85 L441.45,801.85 L441.45,795.75 L488.60,795.75 L488.60,795.47 L535.75,795.47 L535.75,795.40 L582.90,795.40 L582.90,795.40 L630.05,795.40 L630.05,795.40 L677.20,795.40" fill="none" stroke="#0000ff" stroke-width="1.5" stroke-dasharray="3.4 3.2"/>
<line x1="394.30" y1="795.40" x2="441.45" y2="795.40" stroke="#000" stroke-width="1.3" />
<line x1="441.45" y1="795.40" x2="488.60" y2="795.40" stroke="#000" stroke-width="1.3" />
<line x1="488.60" y1="795.40" x2="535.75" y2="795.40" stroke="#000" stroke-width="1.3" />
<line x1="535.75" y1="795.40" x2="582.90" y2="795.40" stroke="#000" stroke-width="1.3" />
<line x1="582.90" y1="795.40" x2="630.05" y2="795.40" stroke="#000" stroke-width="1.3" />
<line x1="630.05" y1="795.40" x2="677.20" y2="795.40" stroke="#000" stroke-width="1.3" />
<line x1="417.88" y1="793.23" x2="417.88" y2="797.57" stroke="#000" stroke-width="1.1" />
<circle cx="417.88" cy="795.40" r="2.05" fill="#000"/>
<line x1="465.03" y1="794.98" x2="465.03" y2="795.82" stroke="#000" stroke-width="1.1" />
<circle cx="465.03" cy="795.40" r="2.05" fill="#000"/>
<circle cx="512.18" cy="795.40" r="2.05" fill="#000"/>
<circle cx="559.33" cy="795.40" r="2.05" fill="#000"/>
<circle cx="606.48" cy="795.40" r="2.05" fill="#000"/>
<circle cx="653.62" cy="795.40" r="2.05" fill="#000"/>
<rect x="394.30" y="764.00" width="282.90" height="62.80" fill="none" stroke="#4a4a4a" stroke-width="1.25"/>
<line x1="394.30" y1="823.66" x2="399.00" y2="823.66" stroke="#222" stroke-width="0.9" />
<line x1="394.30" y1="820.52" x2="403.80" y2="820.52" stroke="#222" stroke-width="0.9" />
<line x1="394.30" y1="817.38" x2="399.00" y2="817.38" stroke="#222" stroke-width="0.9" />
<line x1="394.30" y1="814.24" x2="399.00" y2="814.24" stroke="#222" stroke-width="0.9" />
<line x1="394.30" y1="811.10" x2="399.00" y2="811.10" stroke="#222" stroke-width="0.9" />
<line x1="394.30" y1="807.96" x2="403.80" y2="807.96" stroke="#222" stroke-width="0.9" />
<line x1="394.30" y1="804.82" x2="399.00" y2="804.82" stroke="#222" stroke-width="0.9" />
<line x1="394.30" y1="801.68" x2="399.00" y2="801.68" stroke="#222" stroke-width="0.9" />
<line x1="394.30" y1="798.54" x2="399.00" y2="798.54" stroke="#222" stroke-width="0.9" />
<line x1="394.30" y1="795.40" x2="403.80" y2="795.40" stroke="#222" stroke-width="0.9" />
<line x1="394.30" y1="792.26" x2="399.00" y2="792.26" stroke="#222" stroke-width="0.9" />
<line x1="394.30" y1="789.12" x2="399.00" y2="789.12" stroke="#222" stroke-width="0.9" />
<line x1="394.30" y1="785.98" x2="399.00" y2="785.98" stroke="#222" stroke-width="0.9" />
<line x1="394.30" y1="782.84" x2="403.80" y2="782.84" stroke="#222" stroke-width="0.9" />
<line x1="394.30" y1="779.70" x2="399.00" y2="779.70" stroke="#222" stroke-width="0.9" />
<line x1="394.30" y1="776.56" x2="399.00" y2="776.56" stroke="#222" stroke-width="0.9" />
<line x1="394.30" y1="773.42" x2="399.00" y2="773.42" stroke="#222" stroke-width="0.9" />
<line x1="394.30" y1="770.28" x2="403.80" y2="770.28" stroke="#222" stroke-width="0.9" />
<line x1="394.30" y1="767.14" x2="399.00" y2="767.14" stroke="#222" stroke-width="0.9" />
<text x="388.80" y="773.88" font-size="10.5" text-anchor="end" >1.4</text>
<text x="388.80" y="786.44" font-size="10.5" text-anchor="end" >1.2</text>
<text x="388.80" y="799.00" font-size="10.5" text-anchor="end" >1</text>
<text x="388.80" y="811.56" font-size="10.5" text-anchor="end" >0.8</text>
<text x="388.80" y="824.12" font-size="10.5" text-anchor="end" >0.6</text>
<line x1="403.73" y1="826.80" x2="403.73" y2="822.30" stroke="#222" stroke-width="0.9" />
<line x1="413.16" y1="826.80" x2="413.16" y2="822.30" stroke="#222" stroke-width="0.9" />
<line x1="422.59" y1="826.80" x2="422.59" y2="822.30" stroke="#222" stroke-width="0.9" />
<line x1="432.02" y1="826.80" x2="432.02" y2="822.30" stroke="#222" stroke-width="0.9" />
<line x1="441.45" y1="826.80" x2="441.45" y2="816.80" stroke="#222" stroke-width="0.9" />
<line x1="450.88" y1="826.80" x2="450.88" y2="822.30" stroke="#222" stroke-width="0.9" />
<line x1="460.31" y1="826.80" x2="460.31" y2="822.30" stroke="#222" stroke-width="0.9" />
<line x1="469.74" y1="826.80" x2="469.74" y2="822.30" stroke="#222" stroke-width="0.9" />
<line x1="479.17" y1="826.80" x2="479.17" y2="822.30" stroke="#222" stroke-width="0.9" />
<line x1="488.60" y1="826.80" x2="488.60" y2="816.80" stroke="#222" stroke-width="0.9" />
<line x1="498.03" y1="826.80" x2="498.03" y2="822.30" stroke="#222" stroke-width="0.9" />
<line x1="507.46" y1="826.80" x2="507.46" y2="822.30" stroke="#222" stroke-width="0.9" />
<line x1="516.89" y1="826.80" x2="516.89" y2="822.30" stroke="#222" stroke-width="0.9" />
<line x1="526.32" y1="826.80" x2="526.32" y2="822.30" stroke="#222" stroke-width="0.9" />
<line x1="535.75" y1="826.80" x2="535.75" y2="816.80" stroke="#222" stroke-width="0.9" />
<line x1="545.18" y1="826.80" x2="545.18" y2="822.30" stroke="#222" stroke-width="0.9" />
<line x1="554.61" y1="826.80" x2="554.61" y2="822.30" stroke="#222" stroke-width="0.9" />
<line x1="564.04" y1="826.80" x2="564.04" y2="822.30" stroke="#222" stroke-width="0.9" />
<line x1="573.47" y1="826.80" x2="573.47" y2="822.30" stroke="#222" stroke-width="0.9" />
<line x1="582.90" y1="826.80" x2="582.90" y2="816.80" stroke="#222" stroke-width="0.9" />
<line x1="592.33" y1="826.80" x2="592.33" y2="822.30" stroke="#222" stroke-width="0.9" />
<line x1="601.76" y1="826.80" x2="601.76" y2="822.30" stroke="#222" stroke-width="0.9" />
<line x1="611.19" y1="826.80" x2="611.19" y2="822.30" stroke="#222" stroke-width="0.9" />
<line x1="620.62" y1="826.80" x2="620.62" y2="822.30" stroke="#222" stroke-width="0.9" />
<line x1="630.05" y1="826.80" x2="630.05" y2="816.80" stroke="#222" stroke-width="0.9" />
<line x1="639.48" y1="826.80" x2="639.48" y2="822.30" stroke="#222" stroke-width="0.9" />
<line x1="648.91" y1="826.80" x2="648.91" y2="822.30" stroke="#222" stroke-width="0.9" />
<line x1="658.34" y1="826.80" x2="658.34" y2="822.30" stroke="#222" stroke-width="0.9" />
<line x1="667.77" y1="826.80" x2="667.77" y2="822.30" stroke="#222" stroke-width="0.9" />
<text x="643.40" y="779.10" font-size="12.2" text-anchor="end" textLength="16.4" lengthAdjust="spacingAndGlyphs">600</text>
<text x="618.80" y="779.10" font-size="13" text-anchor="middle" textLength="9.2" lengthAdjust="spacingAndGlyphs">&lt;</text>
<text x="585.50" y="779.10" font-size="12.2" textLength="23.8" lengthAdjust="spacingAndGlyphs">/GeV</text>
<text x="568.60" y="773.90" font-size="8.6" textLength="15.8" lengthAdjust="spacingAndGlyphs">max</text>
<path d="M572.10,776.60 V781.70 M568.80,781.70 H575.40" stroke="#000" stroke-width="0.75" fill="none"/>
<text x="562.90" y="779.10" font-size="11.2" font-style="italic">p</text>
<text x="553.30" y="779.10" font-size="13" text-anchor="middle" textLength="9.2" lengthAdjust="spacingAndGlyphs">&lt;</text>
<text x="544.90" y="779.10" font-size="12.2" text-anchor="end" textLength="16.9" lengthAdjust="spacingAndGlyphs">500</text>
<text transform="translate(363.3,768.40) rotate(-90)" font-size="15" text-anchor="end" textLength="54" lengthAdjust="spacingAndGlyphs">MC/Data</text>
<text x="394.30" y="840.10" font-size="10.5" text-anchor="middle" >0</text>
<text x="441.45" y="840.10" font-size="10.5" text-anchor="middle" >0.1</text>
<text x="488.60" y="840.10" font-size="10.5" text-anchor="middle" >0.2</text>
<text x="535.75" y="840.10" font-size="10.5" text-anchor="middle" >0.3</text>
<text x="582.90" y="840.10" font-size="10.5" text-anchor="middle" >0.4</text>
<text x="630.05" y="840.10" font-size="10.5" text-anchor="middle" >0.5</text>
<text x="677.20" y="840.10" font-size="10.5" text-anchor="middle" >0.6</text>
<text x="674.20" y="856.80" font-size="14" font-style="italic" text-anchor="middle">r</text>
</svg>
</body></html>
